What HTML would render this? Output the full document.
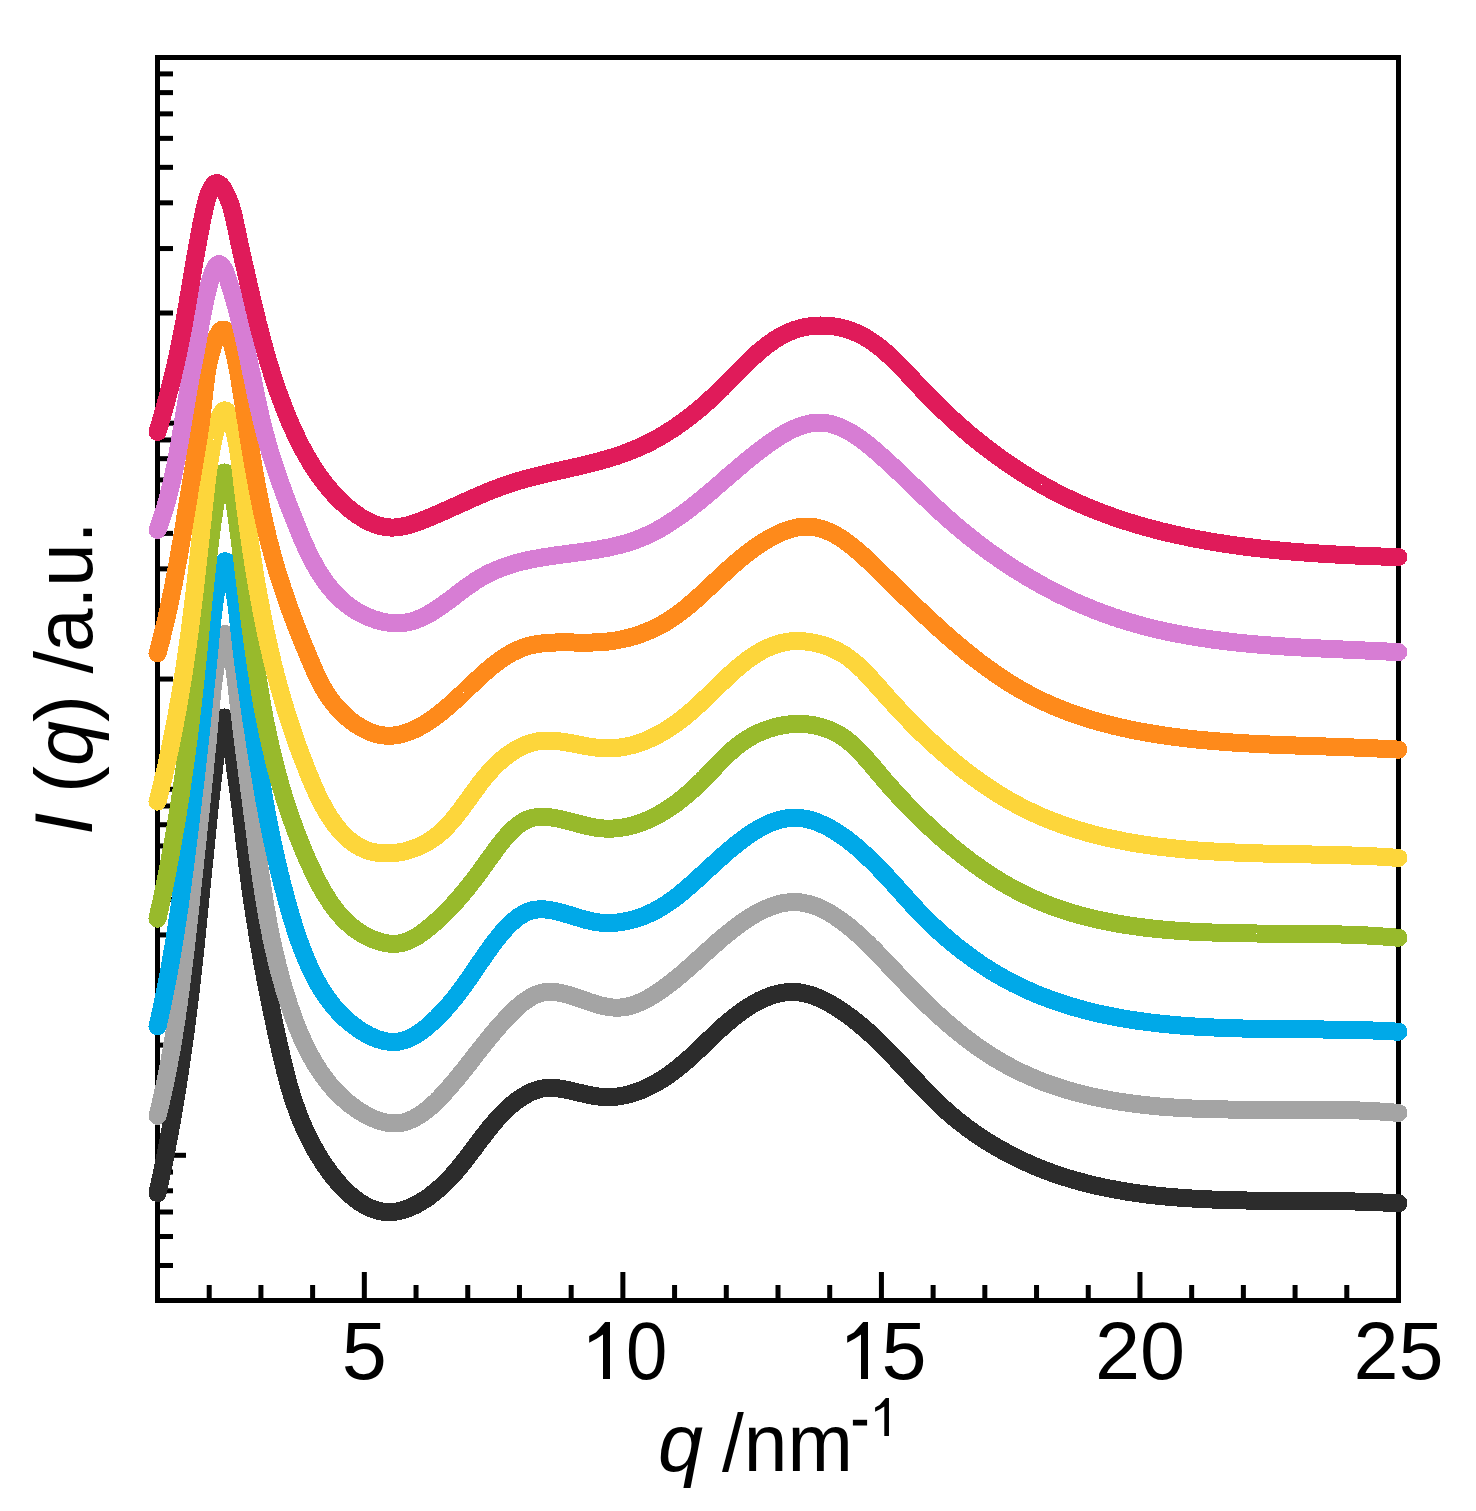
<!DOCTYPE html>
<html><head><meta charset="utf-8"><style>
html,body{margin:0;padding:0;background:#fff;}
svg{display:block;}
text{font-family:"Liberation Sans",sans-serif;font-size:81px;fill:#000;}
</style></head><body>
<svg width="1476" height="1511" viewBox="0 0 1476 1511">
<rect width="1476" height="1511" fill="#fff"/>
<g fill="#000"><rect x="160" y="1262.99" width="13" height="5"/>
<rect x="160" y="1234.01" width="13" height="5"/>
<rect x="160" y="1209.50" width="13" height="5"/>
<rect x="160" y="1188.27" width="13" height="5"/>
<rect x="160" y="1169.55" width="13" height="5"/>
<rect x="160" y="1152.80" width="26" height="5"/>
<rect x="160" y="1042.61" width="13" height="5"/>
<rect x="160" y="978.15" width="13" height="5"/>
<rect x="160" y="932.42" width="13" height="5"/>
<rect x="160" y="896.94" width="13" height="5"/>
<rect x="160" y="867.96" width="13" height="5"/>
<rect x="160" y="843.45" width="13" height="5"/>
<rect x="160" y="822.22" width="13" height="5"/>
<rect x="160" y="803.50" width="13" height="5"/>
<rect x="160" y="786.75" width="26" height="5"/>
<rect x="160" y="676.56" width="13" height="5"/>
<rect x="160" y="612.10" width="13" height="5"/>
<rect x="160" y="566.37" width="13" height="5"/>
<rect x="160" y="530.89" width="13" height="5"/>
<rect x="160" y="501.91" width="13" height="5"/>
<rect x="160" y="477.40" width="13" height="5"/>
<rect x="160" y="456.17" width="13" height="5"/>
<rect x="160" y="437.45" width="13" height="5"/>
<rect x="160" y="420.70" width="26" height="5"/>
<rect x="160" y="310.51" width="13" height="5"/>
<rect x="160" y="246.05" width="13" height="5"/>
<rect x="160" y="200.32" width="13" height="5"/>
<rect x="160" y="164.84" width="13" height="5"/>
<rect x="160" y="135.86" width="13" height="5"/>
<rect x="160" y="111.35" width="13" height="5"/>
<rect x="160" y="90.12" width="13" height="5"/>
<rect x="160" y="71.40" width="13" height="5"/>
<rect x="206.71" y="1285" width="5" height="13"/>
<rect x="258.42" y="1285" width="5" height="13"/>
<rect x="310.12" y="1285" width="5" height="13"/>
<rect x="361.83" y="1272" width="5" height="26"/>
<rect x="413.54" y="1285" width="5" height="13"/>
<rect x="465.25" y="1285" width="5" height="13"/>
<rect x="516.96" y="1285" width="5" height="13"/>
<rect x="568.67" y="1285" width="5" height="13"/>
<rect x="620.37" y="1272" width="5" height="26"/>
<rect x="672.08" y="1285" width="5" height="13"/>
<rect x="723.79" y="1285" width="5" height="13"/>
<rect x="775.50" y="1285" width="5" height="13"/>
<rect x="827.21" y="1285" width="5" height="13"/>
<rect x="878.92" y="1272" width="5" height="26"/>
<rect x="930.62" y="1285" width="5" height="13"/>
<rect x="982.33" y="1285" width="5" height="13"/>
<rect x="1034.04" y="1285" width="5" height="13"/>
<rect x="1085.75" y="1285" width="5" height="13"/>
<rect x="1137.46" y="1272" width="5" height="26"/>
<rect x="1189.17" y="1285" width="5" height="13"/>
<rect x="1240.87" y="1285" width="5" height="13"/>
<rect x="1292.58" y="1285" width="5" height="13"/>
<rect x="1344.29" y="1285" width="5" height="13"/></g>
<rect x="157.5" y="57.5" width="1241" height="1243" fill="none" stroke="#000" stroke-width="5"/>
<g fill="none" stroke-width="18" stroke-linecap="round" stroke-linejoin="round" shape-rendering="crispEdges">
<path d="M157.5 1193.1 L157.9 1191.1 L158.3 1189.2 L158.8 1187.2 L159.2 1185.3 L159.6 1183.3 L160.0 1181.3 L160.5 1179.4 L160.9 1177.4 L161.3 1175.5 L161.7 1173.5 L162.1 1171.5 L162.5 1169.6 L162.9 1167.6 L163.3 1165.6 L163.7 1163.7 L164.1 1161.7 L164.5 1159.7 L164.9 1157.8 L165.3 1155.8 L165.7 1153.9 L166.1 1151.9 L166.5 1149.9 L166.9 1148.0 L167.2 1146.0 L167.6 1144.0 L168.0 1142.1 L168.4 1140.1 L168.7 1138.1 L169.1 1136.2 L169.5 1134.2 L169.8 1132.2 L170.2 1130.2 L170.5 1128.3 L170.9 1126.3 L171.2 1124.3 L171.6 1122.4 L171.9 1120.4 L172.3 1118.4 L172.6 1116.5 L173.0 1114.5 L173.3 1112.5 L173.7 1110.5 L174.0 1108.6 L174.3 1106.6 L174.7 1104.6 L175.0 1102.6 L175.3 1100.7 L175.6 1098.7 L176.0 1096.7 L176.3 1094.7 L176.6 1092.8 L176.9 1090.8 L177.2 1088.8 L177.5 1086.8 L177.9 1084.9 L178.2 1082.9 L178.5 1080.9 L178.8 1078.9 L179.1 1077.0 L179.4 1075.0 L179.7 1073.0 L180.0 1071.0 L180.3 1069.0 L180.6 1067.1 L180.9 1065.1 L181.2 1063.1 L181.4 1061.1 L181.7 1059.1 L182.0 1057.2 L182.3 1055.2 L182.6 1053.2 L182.9 1051.2 L183.1 1049.2 L183.4 1047.3 L183.7 1045.3 L184.0 1043.3 L184.2 1041.3 L184.5 1039.3 L184.8 1037.3 L185.1 1035.4 L185.3 1033.4 L185.6 1031.4 L185.8 1029.4 L186.1 1027.4 L186.4 1025.4 L186.6 1023.4 L186.9 1021.5 L187.1 1019.5 L187.4 1017.5 L187.6 1015.5 L187.9 1013.5 L188.1 1011.5 L188.4 1009.5 L188.6 1007.5 L188.9 1005.6 L189.1 1003.6 L189.4 1001.6 L189.6 999.6 L189.8 997.6 L190.1 995.6 L190.3 993.6 L190.6 991.6 L190.8 989.6 L191.0 987.6 L191.2 985.6 L191.5 983.7 L191.7 981.7 L191.9 979.7 L192.2 977.7 L192.4 975.7 L192.6 973.7 L192.8 971.7 L193.1 969.7 L193.3 967.7 L193.5 965.7 L193.7 963.7 L193.9 961.7 L194.2 959.7 L194.4 957.7 L194.6 955.7 L194.8 953.7 L195.0 951.8 L195.2 949.8 L195.4 947.8 L195.7 945.8 L195.9 943.8 L196.1 941.8 L196.3 939.8 L196.5 937.8 L196.7 935.8 L196.9 933.8 L197.1 931.8 L197.3 929.8 L197.5 927.8 L197.7 925.8 L197.9 923.8 L198.1 921.8 L198.3 919.8 L198.5 917.8 L198.7 915.9 L198.9 913.9 L199.1 911.9 L199.3 909.9 L199.5 907.9 L199.7 905.9 L199.9 903.9 L200.1 901.9 L200.3 899.9 L200.5 897.9 L200.7 895.9 L200.9 893.9 L201.1 892.0 L201.3 890.0 L201.5 888.0 L201.7 886.0 L201.9 884.0 L202.1 882.0 L202.3 880.0 L202.5 878.0 L202.7 876.1 L202.9 874.1 L203.1 872.1 L203.3 870.1 L203.5 868.1 L203.7 866.1 L203.9 864.2 L204.1 862.2 L204.3 860.2 L204.5 858.2 L204.7 856.2 L204.9 854.3 L205.1 852.3 L205.3 850.3 L205.5 848.3 L205.7 846.4 L205.9 844.4 L206.1 842.4 L206.3 840.4 L206.5 838.5 L206.7 836.5 L206.9 834.5 L207.1 832.5 L207.3 830.6 L207.5 828.6 L207.7 826.6 L207.9 824.7 L208.1 822.7 L208.3 820.7 L208.5 818.8 L208.7 816.8 L208.9 814.9 L209.1 812.9 L209.3 810.9 L209.5 809.0 L209.7 807.0 L210.0 805.1 L210.2 803.1 L210.4 801.1 L210.6 799.1 L210.8 797.1 L211.1 795.0 L211.3 792.9 L211.5 790.8 L211.8 788.6 L212.0 786.4 L212.3 784.2 L212.5 781.9 L212.8 779.6 L213.1 777.2 L213.3 774.8 L213.6 772.4 L213.9 769.9 L214.2 767.4 L214.5 764.9 L214.9 762.3 L215.2 759.7 L215.5 757.1 L215.9 754.6 L216.2 752.0 L216.6 749.4 L216.9 746.9 L217.3 744.4 L217.7 742.0 L218.1 739.6 L218.4 737.3 L218.8 735.1 L219.2 733.0 L219.6 730.9 L220.0 729.0 L220.4 727.2 L220.8 725.5 L221.2 723.9 L221.6 722.5 L222.0 721.3 L222.4 720.2 L222.8 719.3 L223.3 718.5 L223.7 718.0 L224.1 717.6 L224.5 717.5 L224.9 717.6 L225.3 717.9 L225.7 718.4 L226.1 719.1 L226.5 720.0 L226.9 721.1 L227.3 722.3 L227.7 723.7 L228.1 725.2 L228.5 726.9 L228.9 728.7 L229.3 730.6 L229.7 732.6 L230.1 734.7 L230.5 736.9 L230.9 739.1 L231.2 741.5 L231.6 743.9 L232.0 746.3 L232.4 748.8 L232.7 751.3 L233.1 753.8 L233.5 756.4 L233.8 758.9 L234.2 761.4 L234.5 763.9 L234.9 766.4 L235.2 768.9 L235.6 771.3 L235.9 773.7 L236.2 776.0 L236.6 778.4 L236.9 780.7 L237.2 783.0 L237.5 785.2 L237.8 787.5 L238.1 789.7 L238.4 791.9 L238.7 794.1 L239.0 796.3 L239.3 798.4 L239.6 800.6 L239.9 802.7 L240.1 804.8 L240.4 806.9 L240.7 809.0 L240.9 811.1 L241.2 813.2 L241.4 815.2 L241.7 817.3 L241.9 819.3 L242.2 821.3 L242.4 823.3 L242.7 825.3 L242.9 827.3 L243.1 829.3 L243.4 831.3 L243.6 833.3 L243.8 835.2 L244.1 837.2 L244.3 839.1 L244.5 841.1 L244.7 843.0 L245.0 845.0 L245.2 846.9 L245.4 848.8 L245.7 850.7 L245.9 852.7 L246.1 854.6 L246.3 856.5 L246.6 858.4 L246.8 860.3 L247.0 862.2 L247.3 864.1 L247.5 866.0 L247.7 868.0 L248.0 869.9 L248.2 871.8 L248.5 873.7 L248.7 875.6 L249.0 877.5 L249.2 879.5 L249.5 881.4 L249.7 883.3 L250.0 885.3 L250.3 887.2 L250.5 889.1 L250.8 891.1 L251.1 893.0 L251.3 895.0 L251.6 896.9 L251.9 898.9 L252.2 900.9 L252.5 902.8 L252.8 904.8 L253.1 906.8 L253.4 908.7 L253.7 910.7 L254.0 912.7 L254.3 914.7 L254.6 916.7 L254.9 918.6 L255.2 920.6 L255.5 922.6 L255.8 924.6 L256.2 926.6 L256.5 928.6 L256.8 930.6 L257.1 932.6 L257.5 934.6 L257.8 936.6 L258.1 938.6 L258.5 940.6 L258.8 942.6 L259.1 944.6 L259.5 946.6 L259.8 948.6 L260.2 950.6 L260.5 952.6 L260.9 954.6 L261.2 956.6 L261.6 958.6 L262.0 960.6 L262.3 962.6 L262.7 964.6 L263.1 966.7 L263.4 968.7 L263.8 970.7 L264.2 972.7 L264.5 974.7 L264.9 976.7 L265.3 978.7 L265.7 980.7 L266.1 982.7 L266.5 984.7 L266.8 986.7 L267.2 988.7 L267.6 990.7 L268.0 992.7 L268.4 994.7 L268.8 996.7 L269.2 998.7 L269.6 1000.7 L270.0 1002.7 L270.4 1004.7 L270.8 1006.6 L271.2 1008.6 L271.6 1010.6 L272.0 1012.6 L272.4 1014.6 L272.9 1016.5 L273.3 1018.5 L273.7 1020.5 L274.1 1022.5 L274.5 1024.4 L274.9 1026.4 L275.4 1028.3 L275.8 1030.3 L276.2 1032.3 L276.6 1034.2 L277.1 1036.1 L277.5 1038.1 L277.9 1040.0 L278.4 1042.0 L278.8 1043.9 L279.2 1045.8 L279.6 1047.8 L280.1 1049.7 L280.5 1051.6 L281.0 1053.5 L281.4 1055.4 L281.8 1057.3 L282.3 1059.2 L282.7 1061.1 L283.2 1063.0 L283.6 1064.9 L284.1 1066.8 L284.6 1068.7 L285.0 1070.6 L285.5 1072.4 L286.0 1074.3 L286.5 1076.2 L287.0 1078.1 L287.5 1079.9 L288.0 1081.8 L288.5 1083.7 L289.0 1085.5 L289.5 1087.4 L290.1 1089.2 L290.6 1091.1 L291.2 1092.9 L291.8 1094.8 L292.3 1096.7 L292.9 1098.5 L293.5 1100.4 L294.1 1102.2 L294.8 1104.0 L295.4 1105.9 L296.1 1107.7 L296.7 1109.6 L297.4 1111.4 L298.1 1113.3 L298.8 1115.1 L299.5 1117.0 L300.2 1118.8 L301.0 1120.6 L301.8 1122.5 L302.6 1124.3 L303.3 1126.2 L304.2 1128.0 L305.0 1129.9 L305.9 1131.7 L306.7 1133.5 L307.6 1135.4 L308.5 1137.2 L309.4 1139.1 L310.4 1140.9 L311.4 1142.8 L312.4 1144.6 L313.4 1146.5 L314.4 1148.3 L315.4 1150.2 L316.5 1152.1 L317.6 1153.9 L318.7 1155.8 L319.9 1157.6 L321.0 1159.5 L322.2 1161.3 L323.4 1163.2 L324.6 1165.0 L325.9 1166.8 L327.1 1168.6 L328.4 1170.4 L329.7 1172.2 L331.0 1173.9 L332.4 1175.7 L333.7 1177.4 L335.1 1179.1 L336.5 1180.8 L337.9 1182.4 L339.3 1184.0 L340.8 1185.6 L342.2 1187.2 L343.7 1188.7 L345.2 1190.2 L346.7 1191.7 L348.2 1193.1 L349.8 1194.5 L351.3 1195.8 L352.9 1197.1 L354.5 1198.4 L356.0 1199.6 L357.7 1200.8 L359.3 1201.9 L360.9 1203.0 L362.6 1204.0 L364.2 1205.0 L365.9 1205.9 L367.6 1206.8 L369.2 1207.6 L371.0 1208.3 L372.7 1209.0 L374.4 1209.6 L376.1 1210.2 L377.9 1210.6 L379.6 1211.1 L381.4 1211.4 L383.2 1211.7 L384.9 1211.9 L386.7 1212.1 L388.5 1212.1 L390.3 1212.1 L392.1 1212.0 L394.0 1211.9 L395.8 1211.6 L397.6 1211.3 L399.4 1210.9 L401.3 1210.5 L403.1 1210.0 L404.9 1209.4 L406.8 1208.8 L408.6 1208.1 L410.4 1207.3 L412.2 1206.5 L414.1 1205.7 L415.9 1204.8 L417.7 1203.8 L419.5 1202.8 L421.2 1201.8 L423.0 1200.7 L424.8 1199.6 L426.5 1198.4 L428.3 1197.2 L430.0 1195.9 L431.7 1194.6 L433.4 1193.3 L435.0 1192.0 L436.7 1190.6 L438.3 1189.2 L439.9 1187.8 L441.5 1186.4 L443.0 1184.9 L444.6 1183.4 L446.1 1182.0 L447.6 1180.4 L449.1 1178.9 L450.5 1177.4 L452.0 1175.8 L453.4 1174.2 L454.8 1172.6 L456.2 1171.1 L457.5 1169.4 L458.9 1167.8 L460.2 1166.2 L461.6 1164.6 L462.9 1162.9 L464.2 1161.3 L465.5 1159.6 L466.8 1158.0 L468.1 1156.3 L469.3 1154.6 L470.6 1153.0 L471.9 1151.3 L473.1 1149.6 L474.4 1148.0 L475.6 1146.3 L476.9 1144.6 L478.1 1143.0 L479.4 1141.3 L480.6 1139.7 L481.8 1138.0 L483.1 1136.4 L484.3 1134.8 L485.6 1133.2 L486.8 1131.5 L488.1 1129.9 L489.3 1128.4 L490.6 1126.8 L491.9 1125.2 L493.2 1123.7 L494.5 1122.2 L495.8 1120.6 L497.1 1119.1 L498.4 1117.7 L499.8 1116.2 L501.1 1114.8 L502.5 1113.4 L503.8 1112.0 L505.2 1110.6 L506.7 1109.2 L508.1 1107.9 L509.5 1106.6 L511.0 1105.3 L512.5 1104.1 L514.0 1102.9 L515.5 1101.7 L517.1 1100.5 L518.6 1099.4 L520.2 1098.3 L521.9 1097.2 L523.5 1096.2 L525.2 1095.2 L526.9 1094.2 L528.6 1093.3 L530.3 1092.5 L532.1 1091.7 L533.8 1091.0 L535.6 1090.3 L537.5 1089.7 L539.3 1089.2 L541.1 1088.8 L543.0 1088.4 L544.9 1088.2 L546.8 1088.0 L548.7 1087.9 L550.6 1087.9 L552.5 1087.9 L554.4 1088.0 L556.4 1088.2 L558.3 1088.4 L560.3 1088.7 L562.3 1089.0 L564.2 1089.3 L566.2 1089.7 L568.2 1090.1 L570.2 1090.6 L572.2 1091.0 L574.2 1091.5 L576.2 1092.0 L578.2 1092.5 L580.3 1092.9 L582.3 1093.4 L584.3 1093.9 L586.3 1094.4 L588.3 1094.8 L590.3 1095.2 L592.3 1095.6 L594.3 1096.0 L596.3 1096.3 L598.3 1096.5 L600.3 1096.8 L602.3 1096.9 L604.3 1097.0 L606.3 1097.1 L608.3 1097.1 L610.2 1097.1 L612.2 1097.0 L614.1 1096.9 L616.1 1096.7 L618.0 1096.4 L620.0 1096.2 L621.9 1095.8 L623.8 1095.5 L625.7 1095.1 L627.6 1094.6 L629.5 1094.1 L631.4 1093.6 L633.3 1093.0 L635.1 1092.4 L637.0 1091.8 L638.8 1091.1 L640.7 1090.4 L642.5 1089.6 L644.3 1088.9 L646.1 1088.0 L647.9 1087.2 L649.7 1086.3 L651.5 1085.4 L653.3 1084.5 L655.0 1083.5 L656.8 1082.5 L658.5 1081.5 L660.3 1080.4 L662.0 1079.4 L663.7 1078.3 L665.4 1077.2 L667.0 1076.0 L668.7 1074.9 L670.4 1073.7 L672.0 1072.5 L673.6 1071.3 L675.3 1070.1 L676.9 1068.8 L678.5 1067.6 L680.0 1066.3 L681.6 1065.0 L683.1 1063.7 L684.7 1062.4 L686.2 1061.1 L687.7 1059.8 L689.2 1058.4 L690.7 1057.1 L692.2 1055.7 L693.7 1054.3 L695.1 1053.0 L696.6 1051.6 L698.1 1050.2 L699.5 1048.8 L701.0 1047.5 L702.4 1046.1 L703.9 1044.7 L705.3 1043.3 L706.7 1041.9 L708.2 1040.5 L709.6 1039.1 L711.1 1037.7 L712.5 1036.3 L714.0 1034.9 L715.4 1033.6 L716.9 1032.2 L718.4 1030.8 L719.8 1029.5 L721.3 1028.1 L722.8 1026.8 L724.3 1025.4 L725.8 1024.1 L727.3 1022.8 L728.9 1021.5 L730.4 1020.2 L732.0 1018.9 L733.6 1017.6 L735.1 1016.3 L736.8 1015.1 L738.4 1013.9 L740.0 1012.7 L741.7 1011.5 L743.3 1010.3 L745.0 1009.1 L746.8 1008.0 L748.5 1006.9 L750.2 1005.8 L752.0 1004.7 L753.8 1003.7 L755.6 1002.7 L757.4 1001.7 L759.2 1000.7 L761.0 999.8 L762.9 999.0 L764.8 998.2 L766.6 997.4 L768.5 996.6 L770.4 995.9 L772.3 995.3 L774.2 994.7 L776.1 994.2 L778.0 993.7 L779.9 993.2 L781.8 992.9 L783.8 992.6 L785.7 992.3 L787.6 992.1 L789.5 992.0 L791.5 991.9 L793.4 991.9 L795.3 992.0 L797.3 992.2 L799.2 992.4 L801.1 992.7 L803.1 993.0 L805.0 993.4 L806.9 993.9 L808.8 994.4 L810.7 995.0 L812.6 995.6 L814.5 996.3 L816.4 997.0 L818.3 997.8 L820.1 998.6 L822.0 999.5 L823.8 1000.3 L825.7 1001.3 L827.5 1002.2 L829.3 1003.2 L831.1 1004.3 L832.9 1005.3 L834.7 1006.4 L836.5 1007.5 L838.3 1008.6 L840.0 1009.8 L841.7 1010.9 L843.4 1012.1 L845.1 1013.3 L846.8 1014.5 L848.5 1015.7 L850.1 1016.9 L851.8 1018.2 L853.4 1019.4 L855.0 1020.7 L856.6 1022.0 L858.2 1023.2 L859.8 1024.5 L861.3 1025.8 L862.9 1027.2 L864.4 1028.5 L866.0 1029.8 L867.5 1031.1 L869.0 1032.5 L870.5 1033.9 L872.0 1035.2 L873.4 1036.6 L874.9 1038.0 L876.4 1039.4 L877.8 1040.7 L879.3 1042.1 L880.7 1043.6 L882.1 1045.0 L883.5 1046.4 L885.0 1047.8 L886.4 1049.2 L887.8 1050.7 L889.2 1052.1 L890.6 1053.5 L892.0 1055.0 L893.3 1056.4 L894.7 1057.9 L896.1 1059.3 L897.5 1060.8 L898.8 1062.2 L900.2 1063.7 L901.6 1065.1 L902.9 1066.6 L904.3 1068.1 L905.7 1069.5 L907.0 1071.0 L908.4 1072.4 L909.7 1073.9 L911.1 1075.4 L912.5 1076.8 L913.8 1078.3 L915.2 1079.7 L916.5 1081.2 L917.9 1082.6 L919.3 1084.1 L920.6 1085.5 L922.0 1087.0 L923.4 1088.4 L924.8 1089.8 L926.2 1091.3 L927.6 1092.7 L928.9 1094.1 L930.3 1095.5 L931.8 1096.9 L933.2 1098.3 L934.6 1099.7 L936.0 1101.1 L937.4 1102.5 L938.9 1103.9 L940.3 1105.3 L941.8 1106.6 L943.2 1108.0 L944.7 1109.3 L946.2 1110.6 L947.7 1112.0 L949.2 1113.3 L950.7 1114.6 L952.2 1115.9 L953.7 1117.2 L955.3 1118.5 L956.8 1119.7 L958.4 1121.0 L960.0 1122.3 L961.5 1123.5 L963.1 1124.7 L964.7 1125.9 L966.3 1127.2 L968.0 1128.4 L969.6 1129.5 L971.2 1130.7 L972.9 1131.9 L974.5 1133.1 L976.2 1134.2 L977.8 1135.3 L979.5 1136.5 L981.2 1137.6 L982.9 1138.7 L984.6 1139.8 L986.3 1140.9 L988.0 1141.9 L989.7 1143.0 L991.4 1144.1 L993.1 1145.1 L994.9 1146.1 L996.6 1147.2 L998.4 1148.2 L1000.1 1149.2 L1001.9 1150.2 L1003.7 1151.1 L1005.4 1152.1 L1007.2 1153.1 L1009.0 1154.0 L1010.8 1154.9 L1012.6 1155.8 L1014.4 1156.8 L1016.2 1157.7 L1018.0 1158.5 L1019.8 1159.4 L1021.6 1160.3 L1023.4 1161.1 L1025.2 1162.0 L1027.1 1162.8 L1028.9 1163.6 L1030.7 1164.4 L1032.6 1165.2 L1034.4 1166.0 L1036.3 1166.8 L1038.1 1167.5 L1040.0 1168.3 L1041.8 1169.0 L1043.7 1169.7 L1045.5 1170.5 L1047.4 1171.2 L1049.2 1171.9 L1051.1 1172.5 L1053.0 1173.2 L1054.9 1173.9 L1056.7 1174.5 L1058.6 1175.1 L1060.5 1175.8 L1062.4 1176.4 L1064.3 1177.0 L1066.2 1177.6 L1068.1 1178.2 L1070.0 1178.8 L1071.9 1179.3 L1073.8 1179.9 L1075.7 1180.4 L1077.6 1181.0 L1079.5 1181.5 L1081.4 1182.0 L1083.3 1182.5 L1085.2 1183.0 L1087.1 1183.5 L1089.1 1184.0 L1091.0 1184.5 L1092.9 1184.9 L1094.9 1185.4 L1096.8 1185.8 L1098.7 1186.3 L1100.7 1186.7 L1102.6 1187.1 L1104.5 1187.5 L1106.5 1187.9 L1108.4 1188.3 L1110.4 1188.7 L1112.3 1189.1 L1114.3 1189.4 L1116.2 1189.8 L1118.2 1190.2 L1120.1 1190.5 L1122.1 1190.8 L1124.1 1191.2 L1126.0 1191.5 L1128.0 1191.8 L1129.9 1192.1 L1131.9 1192.4 L1133.9 1192.7 L1135.9 1193.0 L1137.8 1193.3 L1139.8 1193.5 L1141.8 1193.8 L1143.8 1194.1 L1145.7 1194.3 L1147.7 1194.6 L1149.7 1194.8 L1151.7 1195.0 L1153.7 1195.3 L1155.7 1195.5 L1157.7 1195.7 L1159.6 1195.9 L1161.6 1196.1 L1163.6 1196.3 L1165.6 1196.5 L1167.6 1196.7 L1169.6 1196.9 L1171.6 1197.0 L1173.6 1197.2 L1175.6 1197.4 L1177.6 1197.5 L1179.6 1197.7 L1181.6 1197.8 L1183.6 1198.0 L1185.6 1198.1 L1187.6 1198.3 L1189.7 1198.4 L1191.7 1198.5 L1193.7 1198.6 L1195.7 1198.7 L1197.7 1198.9 L1199.7 1199.0 L1201.7 1199.1 L1203.7 1199.2 L1205.8 1199.3 L1207.8 1199.4 L1209.8 1199.4 L1211.8 1199.5 L1213.8 1199.6 L1215.8 1199.7 L1217.9 1199.8 L1219.9 1199.8 L1221.9 1199.9 L1223.9 1200.0 L1225.9 1200.0 L1228.0 1200.1 L1230.0 1200.1 L1232.0 1200.2 L1234.0 1200.2 L1236.1 1200.3 L1238.1 1200.3 L1240.1 1200.4 L1242.1 1200.4 L1244.1 1200.4 L1246.2 1200.5 L1248.2 1200.5 L1250.2 1200.5 L1252.2 1200.6 L1254.3 1200.6 L1256.3 1200.6 L1258.3 1200.6 L1260.3 1200.7 L1262.4 1200.7 L1264.4 1200.7 L1266.4 1200.7 L1268.4 1200.7 L1270.5 1200.7 L1272.5 1200.8 L1274.5 1200.8 L1276.5 1200.8 L1278.6 1200.8 L1280.6 1200.8 L1282.6 1200.8 L1284.6 1200.8 L1286.7 1200.8 L1288.7 1200.8 L1290.7 1200.8 L1292.7 1200.9 L1294.7 1200.9 L1296.8 1200.9 L1298.8 1200.9 L1300.8 1200.9 L1302.8 1200.9 L1304.8 1200.9 L1306.9 1200.9 L1308.9 1200.9 L1310.9 1200.9 L1312.9 1200.9 L1314.9 1201.0 L1316.9 1201.0 L1318.9 1201.0 L1321.0 1201.0 L1323.0 1201.0 L1325.0 1201.0 L1327.0 1201.0 L1329.0 1201.1 L1331.0 1201.1 L1333.0 1201.1 L1335.0 1201.1 L1337.0 1201.2 L1339.0 1201.2 L1341.0 1201.2 L1343.0 1201.3 L1345.0 1201.3 L1347.0 1201.3 L1349.0 1201.4 L1351.0 1201.4 L1353.0 1201.4 L1355.0 1201.5 L1357.0 1201.5 L1359.0 1201.6 L1361.0 1201.7 L1363.0 1201.7 L1365.0 1201.8 L1366.9 1201.8 L1368.9 1201.9 L1370.9 1202.0 L1372.9 1202.0 L1374.9 1202.1 L1376.8 1202.2 L1378.8 1202.3 L1380.8 1202.4 L1382.8 1202.5 L1384.7 1202.6 L1386.7 1202.7 L1388.7 1202.8 L1390.6 1202.9 L1392.6 1203.0 L1394.6 1203.1 L1396.5 1203.2 L1398.5 1203.3" stroke="#2c2c2c"/>
<path d="M157.5 1115.9 L158.0 1114.0 L158.5 1112.0 L159.0 1110.1 L159.4 1108.1 L159.9 1106.2 L160.4 1104.2 L160.8 1102.3 L161.3 1100.3 L161.7 1098.4 L162.2 1096.4 L162.6 1094.4 L163.0 1092.5 L163.5 1090.5 L163.9 1088.6 L164.3 1086.6 L164.7 1084.7 L165.2 1082.7 L165.6 1080.7 L166.0 1078.8 L166.4 1076.8 L166.8 1074.9 L167.2 1072.9 L167.5 1070.9 L167.9 1069.0 L168.3 1067.0 L168.7 1065.0 L169.1 1063.1 L169.4 1061.1 L169.8 1059.1 L170.1 1057.2 L170.5 1055.2 L170.9 1053.2 L171.2 1051.3 L171.6 1049.3 L171.9 1047.3 L172.2 1045.3 L172.6 1043.4 L172.9 1041.4 L173.2 1039.4 L173.6 1037.4 L173.9 1035.5 L174.2 1033.5 L174.5 1031.5 L174.8 1029.5 L175.2 1027.6 L175.5 1025.6 L175.8 1023.6 L176.1 1021.6 L176.4 1019.7 L176.7 1017.7 L177.0 1015.7 L177.3 1013.7 L177.5 1011.7 L177.8 1009.8 L178.1 1007.8 L178.4 1005.8 L178.7 1003.8 L178.9 1001.8 L179.2 999.9 L179.5 997.9 L179.8 995.9 L180.0 993.9 L180.3 991.9 L180.6 989.9 L180.8 987.9 L181.1 986.0 L181.3 984.0 L181.6 982.0 L181.8 980.0 L182.1 978.0 L182.3 976.0 L182.6 974.0 L182.8 972.1 L183.1 970.1 L183.3 968.1 L183.6 966.1 L183.8 964.1 L184.1 962.1 L184.3 960.1 L184.5 958.1 L184.8 956.1 L185.0 954.2 L185.2 952.2 L185.5 950.2 L185.7 948.2 L185.9 946.2 L186.1 944.2 L186.4 942.2 L186.6 940.2 L186.8 938.2 L187.0 936.2 L187.3 934.3 L187.5 932.3 L187.7 930.3 L187.9 928.3 L188.2 926.3 L188.4 924.3 L188.6 922.3 L188.8 920.3 L189.0 918.3 L189.3 916.3 L189.5 914.3 L189.7 912.3 L189.9 910.3 L190.1 908.4 L190.3 906.4 L190.6 904.4 L190.8 902.4 L191.0 900.4 L191.2 898.4 L191.4 896.4 L191.6 894.4 L191.9 892.4 L192.1 890.4 L192.3 888.4 L192.5 886.4 L192.7 884.4 L192.9 882.5 L193.2 880.5 L193.4 878.5 L193.6 876.5 L193.8 874.5 L194.0 872.5 L194.2 870.5 L194.5 868.5 L194.7 866.5 L194.9 864.5 L195.1 862.5 L195.3 860.5 L195.5 858.5 L195.8 856.6 L196.0 854.6 L196.2 852.6 L196.4 850.6 L196.6 848.6 L196.8 846.6 L197.1 844.6 L197.3 842.6 L197.5 840.6 L197.7 838.6 L197.9 836.6 L198.1 834.6 L198.3 832.7 L198.5 830.7 L198.8 828.7 L199.0 826.7 L199.2 824.7 L199.4 822.7 L199.6 820.7 L199.8 818.7 L200.0 816.7 L200.2 814.7 L200.5 812.8 L200.7 810.8 L200.9 808.8 L201.1 806.8 L201.3 804.8 L201.5 802.8 L201.7 800.8 L201.9 798.8 L202.1 796.8 L202.3 794.9 L202.5 792.9 L202.7 790.9 L202.9 788.9 L203.1 786.9 L203.3 784.9 L203.5 782.9 L203.7 780.9 L204.0 779.0 L204.2 777.0 L204.4 775.0 L204.6 773.0 L204.8 771.0 L205.0 769.0 L205.1 767.0 L205.3 765.0 L205.5 763.1 L205.7 761.1 L205.9 759.1 L206.1 757.1 L206.3 755.1 L206.5 753.1 L206.7 751.2 L206.9 749.2 L207.1 747.2 L207.3 745.2 L207.5 743.2 L207.7 741.2 L207.9 739.3 L208.0 737.3 L208.2 735.3 L208.4 733.3 L208.6 731.3 L208.8 729.3 L209.0 727.4 L209.1 725.4 L209.3 723.4 L209.5 721.4 L209.7 719.4 L209.9 717.5 L210.0 715.5 L210.2 713.5 L210.4 711.5 L210.6 709.5 L210.8 707.6 L210.9 705.6 L211.1 703.6 L211.3 701.6 L211.5 699.6 L211.7 697.5 L211.9 695.4 L212.1 693.4 L212.3 691.2 L212.6 689.1 L212.8 686.9 L213.1 684.7 L213.4 682.4 L213.7 680.1 L214.0 677.7 L214.3 675.2 L214.7 672.8 L215.1 670.2 L215.5 667.7 L215.9 665.2 L216.4 662.7 L216.8 660.2 L217.3 657.7 L217.8 655.3 L218.3 652.9 L218.8 650.6 L219.3 648.4 L219.8 646.3 L220.3 644.4 L220.9 642.5 L221.4 640.8 L221.9 639.3 L222.5 637.9 L223.0 636.7 L223.5 635.8 L224.1 635.0 L224.6 634.4 L225.1 634.1 L225.7 634.1 L226.2 634.2 L226.7 634.7 L227.2 635.3 L227.7 636.2 L228.2 637.2 L228.7 638.5 L229.1 639.9 L229.6 641.5 L230.1 643.2 L230.5 645.1 L231.0 647.2 L231.4 649.3 L231.8 651.6 L232.2 653.9 L232.6 656.3 L233.0 658.9 L233.4 661.4 L233.8 664.0 L234.2 666.7 L234.5 669.4 L234.9 672.1 L235.2 674.8 L235.6 677.5 L235.9 680.2 L236.2 682.8 L236.5 685.4 L236.8 687.9 L237.1 690.4 L237.3 692.8 L237.6 695.1 L237.8 697.4 L238.1 699.5 L238.3 701.5 L238.5 703.5 L238.7 705.4 L238.9 707.3 L239.1 709.2 L239.4 711.1 L239.6 713.0 L239.8 714.9 L240.0 716.8 L240.2 718.7 L240.5 720.6 L240.7 722.5 L240.9 724.4 L241.1 726.3 L241.4 728.2 L241.6 730.2 L241.9 732.1 L242.1 734.0 L242.3 736.0 L242.6 737.9 L242.8 739.9 L243.1 741.8 L243.3 743.8 L243.6 745.8 L243.8 747.7 L244.1 749.7 L244.3 751.7 L244.6 753.7 L244.8 755.7 L245.1 757.6 L245.4 759.6 L245.6 761.6 L245.9 763.6 L246.1 765.6 L246.4 767.6 L246.7 769.6 L246.9 771.6 L247.2 773.6 L247.4 775.6 L247.7 777.6 L248.0 779.6 L248.2 781.6 L248.5 783.6 L248.8 785.7 L249.0 787.7 L249.3 789.7 L249.6 791.7 L249.8 793.7 L250.1 795.7 L250.4 797.7 L250.6 799.7 L250.9 801.7 L251.1 803.7 L251.4 805.7 L251.7 807.7 L251.9 809.8 L252.2 811.8 L252.4 813.8 L252.7 815.8 L253.0 817.8 L253.2 819.7 L253.5 821.7 L253.7 823.7 L254.0 825.7 L254.2 827.7 L254.5 829.7 L254.8 831.7 L255.0 833.7 L255.3 835.7 L255.5 837.7 L255.8 839.6 L256.0 841.6 L256.3 843.6 L256.6 845.6 L256.8 847.6 L257.1 849.5 L257.3 851.5 L257.6 853.5 L257.9 855.5 L258.1 857.4 L258.4 859.4 L258.7 861.4 L258.9 863.4 L259.2 865.3 L259.5 867.3 L259.8 869.3 L260.1 871.2 L260.3 873.2 L260.6 875.1 L260.9 877.1 L261.2 879.1 L261.5 881.0 L261.8 883.0 L262.1 885.0 L262.4 886.9 L262.7 888.9 L263.0 890.8 L263.3 892.8 L263.6 894.7 L263.9 896.7 L264.2 898.6 L264.5 900.6 L264.8 902.5 L265.2 904.5 L265.5 906.4 L265.8 908.4 L266.2 910.3 L266.5 912.3 L266.9 914.2 L267.2 916.2 L267.6 918.1 L267.9 920.1 L268.3 922.0 L268.6 924.0 L269.0 925.9 L269.4 927.9 L269.8 929.8 L270.2 931.7 L270.5 933.7 L270.9 935.6 L271.3 937.6 L271.7 939.5 L272.2 941.4 L272.6 943.4 L273.0 945.3 L273.4 947.3 L273.9 949.2 L274.3 951.1 L274.7 953.1 L275.2 955.0 L275.6 956.9 L276.1 958.9 L276.6 960.8 L277.1 962.8 L277.5 964.7 L278.0 966.6 L278.5 968.6 L279.0 970.5 L279.5 972.4 L280.0 974.4 L280.6 976.3 L281.1 978.2 L281.6 980.2 L282.2 982.1 L282.7 984.0 L283.3 986.0 L283.8 987.9 L284.4 989.8 L285.0 991.8 L285.6 993.7 L286.2 995.6 L286.8 997.6 L287.4 999.5 L288.0 1001.4 L288.6 1003.4 L289.3 1005.3 L289.9 1007.2 L290.6 1009.1 L291.2 1011.1 L291.9 1013.0 L292.6 1014.9 L293.3 1016.8 L294.0 1018.8 L294.7 1020.7 L295.4 1022.6 L296.2 1024.5 L296.9 1026.4 L297.7 1028.3 L298.5 1030.2 L299.2 1032.0 L300.0 1033.9 L300.8 1035.8 L301.6 1037.7 L302.5 1039.5 L303.3 1041.4 L304.2 1043.2 L305.0 1045.0 L305.9 1046.8 L306.8 1048.7 L307.7 1050.5 L308.7 1052.3 L309.6 1054.0 L310.6 1055.8 L311.5 1057.6 L312.5 1059.3 L313.5 1061.1 L314.5 1062.8 L315.5 1064.5 L316.6 1066.2 L317.7 1067.9 L318.7 1069.5 L319.8 1071.2 L320.9 1072.8 L322.1 1074.5 L323.2 1076.1 L324.4 1077.7 L325.6 1079.2 L326.8 1080.8 L328.0 1082.4 L329.2 1083.9 L330.5 1085.4 L331.8 1086.9 L333.0 1088.4 L334.4 1089.8 L335.7 1091.3 L337.0 1092.7 L338.4 1094.1 L339.8 1095.4 L341.2 1096.8 L342.7 1098.1 L344.1 1099.4 L345.6 1100.7 L347.1 1102.0 L348.6 1103.3 L350.1 1104.5 L351.7 1105.7 L353.3 1106.8 L354.9 1108.0 L356.5 1109.1 L358.2 1110.2 L359.9 1111.3 L361.6 1112.4 L363.3 1113.4 L365.0 1114.4 L366.8 1115.3 L368.6 1116.3 L370.4 1117.1 L372.2 1118.0 L374.0 1118.8 L375.8 1119.5 L377.7 1120.2 L379.5 1120.8 L381.4 1121.4 L383.3 1121.9 L385.1 1122.3 L387.0 1122.7 L388.9 1123.0 L390.8 1123.2 L392.6 1123.3 L394.5 1123.4 L396.4 1123.3 L398.2 1123.2 L400.1 1123.0 L401.9 1122.7 L403.7 1122.3 L405.6 1121.8 L407.4 1121.2 L409.2 1120.5 L411.0 1119.8 L412.7 1119.0 L414.5 1118.1 L416.2 1117.1 L418.0 1116.1 L419.7 1115.0 L421.4 1113.9 L423.1 1112.7 L424.8 1111.5 L426.5 1110.2 L428.1 1108.8 L429.8 1107.5 L431.4 1106.0 L433.0 1104.6 L434.6 1103.1 L436.2 1101.6 L437.7 1100.0 L439.3 1098.5 L440.8 1096.9 L442.3 1095.3 L443.8 1093.7 L445.3 1092.0 L446.8 1090.4 L448.2 1088.8 L449.6 1087.2 L451.1 1085.5 L452.4 1083.9 L453.8 1082.3 L455.2 1080.7 L456.5 1079.1 L457.8 1077.5 L459.1 1075.9 L460.4 1074.3 L461.7 1072.7 L463.0 1071.1 L464.3 1069.5 L465.5 1068.0 L466.7 1066.4 L468.0 1064.8 L469.2 1063.3 L470.4 1061.7 L471.6 1060.2 L472.8 1058.6 L474.0 1057.1 L475.2 1055.5 L476.4 1054.0 L477.6 1052.5 L478.8 1050.9 L480.0 1049.4 L481.2 1047.9 L482.4 1046.4 L483.6 1044.9 L484.8 1043.4 L486.0 1041.9 L487.2 1040.4 L488.4 1038.9 L489.6 1037.4 L490.9 1035.9 L492.1 1034.4 L493.3 1032.9 L494.6 1031.4 L495.9 1029.9 L497.1 1028.4 L498.4 1027.0 L499.7 1025.5 L501.0 1024.0 L502.4 1022.5 L503.7 1021.1 L505.1 1019.6 L506.4 1018.1 L507.8 1016.7 L509.2 1015.2 L510.7 1013.8 L512.1 1012.3 L513.6 1010.9 L515.1 1009.4 L516.6 1008.0 L518.1 1006.7 L519.7 1005.3 L521.2 1004.0 L522.8 1002.7 L524.4 1001.5 L526.0 1000.4 L527.6 999.2 L529.3 998.2 L530.9 997.2 L532.6 996.3 L534.3 995.4 L536.0 994.6 L537.8 994.0 L539.5 993.4 L541.3 992.9 L543.0 992.5 L544.8 992.2 L546.6 991.9 L548.4 991.8 L550.3 991.8 L552.1 991.8 L554.0 992.0 L555.8 992.2 L557.7 992.4 L559.6 992.8 L561.5 993.1 L563.4 993.6 L565.3 994.0 L567.2 994.6 L569.2 995.1 L571.1 995.7 L573.1 996.4 L575.0 997.0 L577.0 997.7 L579.0 998.3 L580.9 999.0 L582.9 999.7 L584.9 1000.4 L586.9 1001.1 L588.9 1001.8 L590.9 1002.5 L592.9 1003.1 L594.9 1003.7 L596.9 1004.3 L598.9 1004.9 L600.9 1005.4 L602.9 1005.9 L604.9 1006.3 L606.9 1006.7 L608.9 1007.0 L610.9 1007.3 L612.9 1007.5 L614.9 1007.6 L616.9 1007.7 L618.9 1007.6 L620.9 1007.5 L622.9 1007.3 L624.9 1007.0 L626.8 1006.7 L628.8 1006.2 L630.8 1005.7 L632.7 1005.1 L634.7 1004.5 L636.6 1003.7 L638.5 1003.0 L640.4 1002.1 L642.3 1001.3 L644.2 1000.3 L646.1 999.4 L647.9 998.4 L649.7 997.3 L651.6 996.3 L653.4 995.2 L655.1 994.0 L656.9 992.9 L658.6 991.7 L660.4 990.5 L662.1 989.4 L663.7 988.2 L665.4 987.0 L667.0 985.8 L668.6 984.6 L670.2 983.3 L671.8 982.1 L673.4 980.9 L674.9 979.7 L676.5 978.4 L678.0 977.2 L679.5 975.9 L681.0 974.7 L682.5 973.4 L683.9 972.2 L685.4 970.9 L686.9 969.6 L688.3 968.3 L689.8 967.1 L691.2 965.8 L692.6 964.5 L694.1 963.2 L695.5 961.9 L696.9 960.6 L698.4 959.3 L699.8 958.0 L701.2 956.7 L702.7 955.4 L704.1 954.0 L705.6 952.7 L707.0 951.4 L708.5 950.1 L710.0 948.8 L711.4 947.4 L712.9 946.1 L714.4 944.8 L715.9 943.5 L717.4 942.1 L719.0 940.8 L720.5 939.5 L722.1 938.1 L723.7 936.8 L725.3 935.5 L726.9 934.1 L728.5 932.8 L730.2 931.5 L731.8 930.2 L733.5 928.9 L735.2 927.6 L736.9 926.3 L738.6 925.1 L740.3 923.8 L742.0 922.6 L743.8 921.4 L745.5 920.2 L747.3 919.0 L749.1 917.9 L750.8 916.8 L752.6 915.7 L754.4 914.6 L756.2 913.6 L758.0 912.6 L759.9 911.7 L761.7 910.7 L763.5 909.8 L765.3 909.0 L767.2 908.2 L769.0 907.4 L770.9 906.7 L772.7 906.0 L774.6 905.4 L776.4 904.8 L778.3 904.3 L780.1 903.8 L782.0 903.4 L783.8 903.0 L785.7 902.7 L787.5 902.5 L789.4 902.3 L791.2 902.1 L793.1 902.1 L794.9 902.1 L796.8 902.1 L798.6 902.3 L800.5 902.4 L802.3 902.7 L804.1 903.0 L806.0 903.4 L807.8 903.8 L809.6 904.3 L811.4 904.8 L813.2 905.4 L815.0 906.0 L816.8 906.7 L818.6 907.4 L820.4 908.2 L822.2 909.1 L824.0 909.9 L825.7 910.8 L827.5 911.8 L829.3 912.8 L831.0 913.8 L832.8 914.9 L834.5 916.0 L836.2 917.1 L837.9 918.3 L839.7 919.5 L841.4 920.7 L843.1 922.0 L844.8 923.3 L846.4 924.6 L848.1 925.9 L849.8 927.2 L851.4 928.6 L853.1 930.0 L854.7 931.4 L856.4 932.9 L858.0 934.3 L859.6 935.8 L861.2 937.2 L862.8 938.7 L864.3 940.2 L865.9 941.7 L867.5 943.2 L869.0 944.7 L870.5 946.3 L872.1 947.8 L873.6 949.3 L875.1 950.8 L876.6 952.3 L878.0 953.9 L879.5 955.4 L880.9 956.9 L882.4 958.4 L883.8 959.9 L885.2 961.3 L886.6 962.8 L888.0 964.3 L889.4 965.7 L890.7 967.1 L892.1 968.6 L893.4 970.0 L894.8 971.4 L896.1 972.8 L897.4 974.2 L898.7 975.6 L900.1 977.0 L901.4 978.4 L902.7 979.8 L904.0 981.1 L905.3 982.5 L906.6 983.9 L907.9 985.2 L909.2 986.6 L910.5 987.9 L911.8 989.3 L913.2 990.6 L914.5 992.0 L915.8 993.3 L917.1 994.7 L918.5 996.0 L919.8 997.4 L921.2 998.7 L922.6 1000.1 L924.0 1001.4 L925.3 1002.8 L926.8 1004.1 L928.2 1005.5 L929.6 1006.9 L931.0 1008.2 L932.5 1009.6 L933.9 1010.9 L935.4 1012.3 L936.9 1013.7 L938.4 1015.0 L939.9 1016.4 L941.4 1017.7 L942.9 1019.1 L944.4 1020.4 L946.0 1021.8 L947.5 1023.1 L949.1 1024.5 L950.6 1025.8 L952.2 1027.1 L953.8 1028.4 L955.4 1029.8 L957.0 1031.1 L958.6 1032.4 L960.2 1033.7 L961.8 1035.0 L963.4 1036.3 L965.1 1037.5 L966.7 1038.8 L968.4 1040.1 L970.0 1041.3 L971.7 1042.5 L973.3 1043.8 L975.0 1045.0 L976.7 1046.2 L978.4 1047.4 L980.1 1048.6 L981.8 1049.7 L983.5 1050.9 L985.2 1052.0 L986.9 1053.2 L988.6 1054.3 L990.3 1055.4 L992.1 1056.5 L993.8 1057.6 L995.5 1058.6 L997.3 1059.7 L999.0 1060.7 L1000.8 1061.7 L1002.5 1062.7 L1004.3 1063.7 L1006.0 1064.7 L1007.8 1065.7 L1009.6 1066.6 L1011.3 1067.5 L1013.1 1068.5 L1014.9 1069.4 L1016.7 1070.3 L1018.5 1071.2 L1020.3 1072.0 L1022.1 1072.9 L1023.9 1073.7 L1025.7 1074.5 L1027.5 1075.4 L1029.3 1076.2 L1031.1 1077.0 L1032.9 1077.7 L1034.7 1078.5 L1036.6 1079.3 L1038.4 1080.0 L1040.2 1080.7 L1042.1 1081.4 L1043.9 1082.2 L1045.8 1082.8 L1047.6 1083.5 L1049.5 1084.2 L1051.3 1084.9 L1053.2 1085.5 L1055.0 1086.1 L1056.9 1086.8 L1058.8 1087.4 L1060.6 1088.0 L1062.5 1088.6 L1064.4 1089.2 L1066.3 1089.7 L1068.2 1090.3 L1070.0 1090.8 L1071.9 1091.4 L1073.8 1091.9 L1075.7 1092.4 L1077.6 1092.9 L1079.5 1093.4 L1081.4 1093.9 L1083.3 1094.4 L1085.3 1094.9 L1087.2 1095.3 L1089.1 1095.8 L1091.0 1096.2 L1092.9 1096.6 L1094.8 1097.1 L1096.8 1097.5 L1098.7 1097.9 L1100.6 1098.3 L1102.6 1098.7 L1104.5 1099.0 L1106.4 1099.4 L1108.4 1099.8 L1110.3 1100.1 L1112.3 1100.5 L1114.2 1100.8 L1116.2 1101.1 L1118.1 1101.4 L1120.1 1101.8 L1122.0 1102.1 L1124.0 1102.4 L1126.0 1102.6 L1127.9 1102.9 L1129.9 1103.2 L1131.9 1103.5 L1133.8 1103.7 L1135.8 1104.0 L1137.8 1104.2 L1139.8 1104.4 L1141.7 1104.7 L1143.7 1104.9 L1145.7 1105.1 L1147.7 1105.3 L1149.7 1105.5 L1151.6 1105.7 L1153.6 1105.9 L1155.6 1106.1 L1157.6 1106.3 L1159.6 1106.5 L1161.6 1106.6 L1163.6 1106.8 L1165.6 1106.9 L1167.6 1107.1 L1169.6 1107.2 L1171.6 1107.4 L1173.6 1107.5 L1175.6 1107.6 L1177.6 1107.8 L1179.6 1107.9 L1181.6 1108.0 L1183.6 1108.1 L1185.6 1108.2 L1187.6 1108.3 L1189.7 1108.4 L1191.7 1108.5 L1193.7 1108.6 L1195.7 1108.7 L1197.7 1108.7 L1199.7 1108.8 L1201.8 1108.9 L1203.8 1108.9 L1205.8 1109.0 L1207.8 1109.1 L1209.8 1109.1 L1211.9 1109.2 L1213.9 1109.2 L1215.9 1109.3 L1217.9 1109.3 L1219.9 1109.3 L1222.0 1109.4 L1224.0 1109.4 L1226.0 1109.4 L1228.0 1109.5 L1230.1 1109.5 L1232.1 1109.5 L1234.1 1109.5 L1236.2 1109.6 L1238.2 1109.6 L1240.2 1109.6 L1242.2 1109.6 L1244.3 1109.6 L1246.3 1109.6 L1248.3 1109.6 L1250.4 1109.6 L1252.4 1109.7 L1254.4 1109.7 L1256.4 1109.7 L1258.5 1109.7 L1260.5 1109.7 L1262.5 1109.7 L1264.6 1109.7 L1266.6 1109.7 L1268.6 1109.7 L1270.6 1109.7 L1272.7 1109.6 L1274.7 1109.6 L1276.7 1109.6 L1278.8 1109.6 L1280.8 1109.6 L1282.8 1109.6 L1284.8 1109.6 L1286.9 1109.6 L1288.9 1109.6 L1290.9 1109.6 L1292.9 1109.6 L1295.0 1109.6 L1297.0 1109.6 L1299.0 1109.6 L1301.0 1109.6 L1303.0 1109.6 L1305.1 1109.6 L1307.1 1109.6 L1309.1 1109.6 L1311.1 1109.6 L1313.1 1109.6 L1315.1 1109.7 L1317.2 1109.7 L1319.2 1109.7 L1321.2 1109.7 L1323.2 1109.7 L1325.2 1109.7 L1327.2 1109.8 L1329.2 1109.8 L1331.2 1109.8 L1333.2 1109.8 L1335.2 1109.9 L1337.2 1109.9 L1339.2 1109.9 L1341.2 1110.0 L1343.2 1110.0 L1345.2 1110.1 L1347.2 1110.1 L1349.2 1110.2 L1351.2 1110.2 L1353.2 1110.3 L1355.2 1110.4 L1357.2 1110.4 L1359.2 1110.5 L1361.1 1110.6 L1363.1 1110.6 L1365.1 1110.7 L1367.1 1110.8 L1369.1 1110.9 L1371.0 1111.0 L1373.0 1111.1 L1375.0 1111.2 L1376.9 1111.3 L1378.9 1111.4 L1380.9 1111.6 L1382.8 1111.7 L1384.8 1111.8 L1386.8 1112.0 L1388.7 1112.1 L1390.7 1112.2 L1392.6 1112.4 L1394.6 1112.6 L1396.5 1112.7 L1398.5 1112.9" stroke="#a4a4a4"/>
<path d="M157.5 1026.4 L158.0 1024.5 L158.4 1022.5 L158.9 1020.6 L159.3 1018.6 L159.8 1016.7 L160.2 1014.7 L160.6 1012.8 L161.1 1010.8 L161.5 1008.9 L161.9 1006.9 L162.3 1005.0 L162.7 1003.0 L163.1 1001.1 L163.5 999.1 L163.9 997.2 L164.3 995.2 L164.7 993.2 L165.1 991.3 L165.5 989.3 L165.9 987.4 L166.3 985.4 L166.7 983.4 L167.1 981.5 L167.4 979.5 L167.8 977.5 L168.2 975.6 L168.6 973.6 L168.9 971.6 L169.3 969.7 L169.6 967.7 L170.0 965.7 L170.4 963.8 L170.7 961.8 L171.0 959.8 L171.4 957.8 L171.7 955.9 L172.1 953.9 L172.4 951.9 L172.8 949.9 L173.1 948.0 L173.4 946.0 L173.7 944.0 L174.1 942.0 L174.4 940.1 L174.7 938.1 L175.0 936.1 L175.3 934.1 L175.7 932.1 L176.0 930.2 L176.3 928.2 L176.6 926.2 L176.9 924.2 L177.2 922.2 L177.5 920.2 L177.8 918.3 L178.1 916.3 L178.4 914.3 L178.7 912.3 L179.0 910.3 L179.3 908.3 L179.6 906.3 L179.8 904.4 L180.1 902.4 L180.4 900.4 L180.7 898.4 L181.0 896.4 L181.2 894.4 L181.5 892.4 L181.8 890.4 L182.1 888.5 L182.3 886.5 L182.6 884.5 L182.9 882.5 L183.1 880.5 L183.4 878.5 L183.7 876.5 L183.9 874.5 L184.2 872.5 L184.5 870.6 L184.7 868.6 L185.0 866.6 L185.2 864.6 L185.5 862.6 L185.8 860.6 L186.0 858.6 L186.3 856.6 L186.5 854.6 L186.8 852.7 L187.0 850.7 L187.3 848.7 L187.5 846.7 L187.8 844.7 L188.0 842.7 L188.2 840.7 L188.5 838.7 L188.7 836.8 L189.0 834.8 L189.2 832.8 L189.5 830.8 L189.7 828.8 L189.9 826.8 L190.2 824.8 L190.4 822.8 L190.7 820.9 L190.9 818.9 L191.1 816.9 L191.4 814.9 L191.6 812.9 L191.9 810.9 L192.1 809.0 L192.3 807.0 L192.6 805.0 L192.8 803.0 L193.0 801.0 L193.3 799.0 L193.5 797.1 L193.7 795.1 L194.0 793.1 L194.2 791.1 L194.4 789.1 L194.7 787.1 L194.9 785.2 L195.1 783.2 L195.3 781.2 L195.6 779.2 L195.8 777.2 L196.0 775.2 L196.3 773.3 L196.5 771.3 L196.7 769.3 L196.9 767.3 L197.2 765.3 L197.4 763.4 L197.6 761.4 L197.8 759.4 L198.1 757.4 L198.3 755.4 L198.5 753.4 L198.7 751.5 L198.9 749.5 L199.2 747.5 L199.4 745.5 L199.6 743.5 L199.8 741.5 L200.0 739.6 L200.3 737.6 L200.5 735.6 L200.7 733.6 L200.9 731.6 L201.1 729.6 L201.3 727.7 L201.6 725.7 L201.8 723.7 L202.0 721.7 L202.2 719.7 L202.4 717.7 L202.6 715.7 L202.8 713.8 L203.0 711.8 L203.3 709.8 L203.5 707.8 L203.7 705.8 L203.9 703.8 L204.1 701.8 L204.3 699.8 L204.5 697.9 L204.7 695.9 L204.9 693.9 L205.1 691.9 L205.3 689.9 L205.5 687.9 L205.8 685.9 L206.0 683.9 L206.2 681.9 L206.4 679.9 L206.6 677.9 L206.8 675.9 L207.0 674.0 L207.2 672.0 L207.4 670.0 L207.6 668.0 L207.8 666.0 L208.0 664.0 L208.2 662.0 L208.4 660.0 L208.6 658.0 L208.8 656.0 L209.0 654.0 L209.2 652.0 L209.4 650.0 L209.6 648.0 L209.8 646.0 L209.9 644.0 L210.1 642.0 L210.3 639.9 L210.5 637.9 L210.7 635.9 L210.9 633.9 L211.1 631.9 L211.3 629.9 L211.5 627.8 L211.7 625.8 L211.9 623.7 L212.2 621.6 L212.4 619.5 L212.6 617.4 L212.9 615.3 L213.1 613.1 L213.4 610.9 L213.7 608.7 L214.0 606.4 L214.3 604.1 L214.6 601.8 L214.9 599.5 L215.3 597.1 L215.6 594.6 L216.0 592.2 L216.4 589.7 L216.8 587.2 L217.3 584.8 L217.7 582.3 L218.2 580.0 L218.6 577.7 L219.1 575.5 L219.6 573.4 L220.1 571.4 L220.6 569.5 L221.2 567.8 L221.7 566.2 L222.2 564.9 L222.8 563.7 L223.3 562.7 L223.8 562.0 L224.4 561.5 L225.0 561.3 L225.5 561.3 L226.1 561.6 L226.6 562.2 L227.2 563.0 L227.8 564.0 L228.3 565.2 L228.9 566.6 L229.4 568.2 L229.9 569.9 L230.5 571.8 L231.0 573.9 L231.5 576.0 L232.0 578.3 L232.5 580.6 L233.0 583.0 L233.5 585.5 L233.9 588.0 L234.3 590.5 L234.7 593.1 L235.1 595.6 L235.5 598.2 L235.9 600.7 L236.2 603.2 L236.6 605.7 L236.9 608.1 L237.2 610.5 L237.4 612.9 L237.7 615.2 L238.0 617.5 L238.2 619.7 L238.5 621.9 L238.7 624.0 L238.9 626.1 L239.1 628.1 L239.4 630.1 L239.6 632.1 L239.8 634.0 L240.0 635.9 L240.2 637.9 L240.4 639.8 L240.7 641.7 L240.9 643.6 L241.1 645.6 L241.3 647.5 L241.6 649.5 L241.8 651.4 L242.0 653.4 L242.3 655.3 L242.5 657.3 L242.8 659.2 L243.0 661.2 L243.3 663.2 L243.5 665.1 L243.8 667.1 L244.1 669.1 L244.3 671.1 L244.6 673.0 L244.9 675.0 L245.1 677.0 L245.4 679.0 L245.7 681.0 L246.0 683.0 L246.2 685.0 L246.5 687.0 L246.8 689.0 L247.1 691.0 L247.4 692.9 L247.7 694.9 L248.0 696.9 L248.3 698.9 L248.5 700.9 L248.8 702.9 L249.1 704.9 L249.4 706.9 L249.7 708.9 L250.0 710.9 L250.3 712.9 L250.6 714.9 L250.9 716.9 L251.2 718.9 L251.5 720.9 L251.8 722.9 L252.1 724.9 L252.5 726.9 L252.8 728.9 L253.1 730.9 L253.4 732.8 L253.7 734.8 L254.0 736.8 L254.3 738.8 L254.6 740.8 L254.9 742.8 L255.2 744.7 L255.5 746.7 L255.8 748.7 L256.1 750.6 L256.5 752.6 L256.8 754.6 L257.1 756.6 L257.4 758.5 L257.7 760.5 L258.0 762.4 L258.3 764.4 L258.7 766.4 L259.0 768.3 L259.3 770.3 L259.6 772.2 L259.9 774.2 L260.3 776.2 L260.6 778.1 L260.9 780.1 L261.3 782.0 L261.6 784.0 L261.9 785.9 L262.3 787.9 L262.6 789.8 L262.9 791.8 L263.3 793.7 L263.6 795.7 L264.0 797.6 L264.3 799.6 L264.7 801.5 L265.0 803.4 L265.4 805.4 L265.7 807.3 L266.1 809.3 L266.5 811.2 L266.8 813.2 L267.2 815.1 L267.6 817.1 L267.9 819.0 L268.3 820.9 L268.7 822.9 L269.1 824.8 L269.5 826.8 L269.8 828.7 L270.2 830.7 L270.6 832.6 L271.0 834.5 L271.4 836.5 L271.8 838.4 L272.2 840.4 L272.6 842.3 L273.1 844.2 L273.5 846.2 L273.9 848.1 L274.3 850.1 L274.7 852.0 L275.2 854.0 L275.6 855.9 L276.1 857.9 L276.5 859.8 L276.9 861.7 L277.4 863.7 L277.8 865.6 L278.3 867.6 L278.8 869.5 L279.2 871.5 L279.7 873.4 L280.2 875.4 L280.7 877.3 L281.1 879.3 L281.6 881.2 L282.1 883.2 L282.6 885.2 L283.1 887.1 L283.6 889.1 L284.2 891.0 L284.7 893.0 L285.2 895.0 L285.7 896.9 L286.3 898.9 L286.8 900.8 L287.3 902.8 L287.9 904.8 L288.4 906.7 L289.0 908.7 L289.6 910.7 L290.1 912.7 L290.7 914.6 L291.3 916.6 L291.9 918.6 L292.5 920.5 L293.1 922.5 L293.7 924.5 L294.3 926.5 L294.9 928.4 L295.5 930.4 L296.2 932.3 L296.8 934.3 L297.5 936.3 L298.2 938.2 L298.8 940.1 L299.5 942.1 L300.2 944.0 L300.9 946.0 L301.6 947.9 L302.4 949.8 L303.1 951.7 L303.9 953.6 L304.6 955.5 L305.4 957.4 L306.2 959.3 L307.0 961.1 L307.8 963.0 L308.6 964.9 L309.4 966.7 L310.3 968.5 L311.2 970.3 L312.0 972.2 L312.9 974.0 L313.8 975.7 L314.8 977.5 L315.7 979.3 L316.6 981.0 L317.6 982.8 L318.6 984.5 L319.6 986.2 L320.6 987.9 L321.6 989.6 L322.7 991.2 L323.8 992.9 L324.8 994.5 L325.9 996.1 L327.1 997.8 L328.2 999.3 L329.4 1000.9 L330.5 1002.4 L331.7 1004.0 L332.9 1005.5 L334.2 1007.0 L335.4 1008.5 L336.7 1009.9 L338.0 1011.3 L339.3 1012.8 L340.7 1014.1 L342.0 1015.5 L343.4 1016.9 L344.8 1018.2 L346.2 1019.5 L347.7 1020.8 L349.1 1022.0 L350.6 1023.3 L352.2 1024.5 L353.7 1025.7 L355.3 1026.8 L356.8 1028.0 L358.5 1029.1 L360.1 1030.2 L361.7 1031.2 L363.4 1032.3 L365.1 1033.3 L366.9 1034.2 L368.6 1035.2 L370.4 1036.0 L372.2 1036.9 L374.0 1037.7 L375.8 1038.4 L377.6 1039.1 L379.5 1039.7 L381.3 1040.2 L383.2 1040.7 L385.1 1041.1 L386.9 1041.4 L388.8 1041.7 L390.7 1041.8 L392.6 1041.9 L394.5 1041.9 L396.4 1041.8 L398.3 1041.6 L400.1 1041.2 L402.0 1040.8 L403.9 1040.3 L405.8 1039.7 L407.6 1039.0 L409.5 1038.2 L411.3 1037.3 L413.1 1036.4 L414.9 1035.4 L416.7 1034.3 L418.5 1033.2 L420.3 1032.0 L422.1 1030.7 L423.8 1029.4 L425.5 1028.1 L427.2 1026.7 L428.9 1025.3 L430.5 1023.8 L432.1 1022.4 L433.7 1020.9 L435.3 1019.4 L436.9 1017.9 L438.4 1016.3 L439.9 1014.8 L441.3 1013.3 L442.8 1011.8 L444.2 1010.3 L445.5 1008.8 L446.9 1007.2 L448.2 1005.7 L449.5 1004.2 L450.8 1002.7 L452.0 1001.2 L453.3 999.7 L454.5 998.2 L455.7 996.7 L456.9 995.2 L458.0 993.7 L459.2 992.2 L460.3 990.6 L461.5 989.1 L462.6 987.6 L463.7 986.1 L464.8 984.5 L465.9 983.0 L467.0 981.5 L468.1 979.9 L469.1 978.4 L470.2 976.8 L471.3 975.2 L472.4 973.7 L473.5 972.1 L474.5 970.5 L475.6 968.9 L476.7 967.3 L477.8 965.7 L478.9 964.1 L480.0 962.4 L481.2 960.8 L482.3 959.1 L483.5 957.5 L484.6 955.8 L485.8 954.1 L487.0 952.4 L488.2 950.7 L489.5 949.0 L490.7 947.2 L492.0 945.5 L493.3 943.7 L494.6 942.0 L496.0 940.2 L497.3 938.5 L498.7 936.7 L500.1 935.0 L501.5 933.3 L502.9 931.7 L504.4 930.0 L505.8 928.4 L507.3 926.8 L508.8 925.3 L510.3 923.8 L511.9 922.4 L513.4 921.0 L515.0 919.7 L516.6 918.4 L518.2 917.2 L519.8 916.1 L521.4 915.1 L523.1 914.1 L524.7 913.2 L526.4 912.4 L528.1 911.7 L529.8 911.1 L531.5 910.5 L533.3 910.1 L535.0 909.8 L536.8 909.6 L538.6 909.4 L540.3 909.3 L542.2 909.3 L544.0 909.4 L545.8 909.5 L547.6 909.7 L549.5 910.0 L551.3 910.3 L553.2 910.6 L555.1 911.0 L557.0 911.5 L558.9 911.9 L560.8 912.5 L562.7 913.0 L564.7 913.6 L566.6 914.1 L568.6 914.7 L570.5 915.3 L572.5 915.9 L574.5 916.5 L576.5 917.1 L578.5 917.7 L580.5 918.3 L582.5 918.9 L584.5 919.5 L586.5 920.0 L588.5 920.5 L590.5 920.9 L592.6 921.4 L594.6 921.8 L596.7 922.1 L598.7 922.4 L600.8 922.6 L602.8 922.8 L604.9 922.9 L606.9 923.0 L609.0 923.0 L611.0 922.9 L613.1 922.8 L615.1 922.7 L617.2 922.5 L619.2 922.3 L621.2 922.0 L623.3 921.7 L625.3 921.3 L627.3 920.9 L629.2 920.5 L631.2 920.0 L633.1 919.5 L635.1 918.9 L637.0 918.3 L638.9 917.7 L640.7 917.1 L642.6 916.4 L644.4 915.7 L646.2 915.0 L647.9 914.2 L649.7 913.4 L651.4 912.6 L653.1 911.8 L654.8 910.9 L656.5 910.0 L658.1 909.1 L659.8 908.2 L661.4 907.2 L663.0 906.2 L664.6 905.2 L666.2 904.2 L667.8 903.2 L669.3 902.1 L670.9 901.0 L672.4 899.9 L673.9 898.8 L675.5 897.6 L677.0 896.5 L678.5 895.3 L680.0 894.1 L681.5 892.9 L683.0 891.6 L684.5 890.4 L686.0 889.1 L687.5 887.8 L689.0 886.5 L690.5 885.2 L692.0 883.8 L693.5 882.5 L695.1 881.1 L696.6 879.8 L698.1 878.4 L699.6 877.0 L701.2 875.5 L702.7 874.1 L704.3 872.7 L705.8 871.2 L707.4 869.8 L709.0 868.3 L710.5 866.9 L712.1 865.4 L713.7 864.0 L715.3 862.5 L716.9 861.0 L718.5 859.6 L720.2 858.1 L721.8 856.7 L723.4 855.2 L725.1 853.8 L726.7 852.3 L728.4 850.9 L730.0 849.5 L731.7 848.1 L733.3 846.7 L735.0 845.4 L736.7 844.0 L738.4 842.7 L740.1 841.4 L741.8 840.1 L743.5 838.8 L745.2 837.6 L746.9 836.4 L748.6 835.2 L750.3 834.0 L752.0 832.9 L753.8 831.8 L755.5 830.7 L757.2 829.6 L759.0 828.6 L760.7 827.7 L762.4 826.7 L764.2 825.8 L765.9 825.0 L767.7 824.2 L769.5 823.4 L771.2 822.7 L773.0 822.0 L774.7 821.3 L776.5 820.8 L778.3 820.2 L780.1 819.7 L781.8 819.3 L783.6 818.9 L785.4 818.6 L787.2 818.3 L789.0 818.1 L790.8 817.9 L792.5 817.8 L794.3 817.8 L796.1 817.8 L797.9 817.9 L799.7 818.0 L801.5 818.2 L803.3 818.5 L805.1 818.8 L806.9 819.1 L808.7 819.6 L810.5 820.0 L812.3 820.5 L814.1 821.1 L815.8 821.7 L817.6 822.4 L819.4 823.1 L821.2 823.9 L823.0 824.6 L824.7 825.5 L826.5 826.4 L828.3 827.3 L830.0 828.2 L831.8 829.2 L833.5 830.3 L835.3 831.3 L837.0 832.4 L838.7 833.5 L840.5 834.7 L842.2 835.9 L843.9 837.1 L845.6 838.3 L847.3 839.6 L849.0 840.9 L850.7 842.2 L852.3 843.5 L854.0 844.9 L855.6 846.3 L857.3 847.6 L858.9 849.1 L860.5 850.5 L862.1 851.9 L863.7 853.4 L865.3 854.8 L866.9 856.3 L868.5 857.8 L870.0 859.3 L871.6 860.8 L873.1 862.3 L874.6 863.8 L876.1 865.3 L877.6 866.8 L879.1 868.3 L880.5 869.8 L882.0 871.3 L883.4 872.8 L884.8 874.3 L886.2 875.8 L887.6 877.3 L889.0 878.8 L890.3 880.3 L891.7 881.7 L893.0 883.2 L894.3 884.7 L895.6 886.1 L896.9 887.6 L898.2 889.0 L899.5 890.5 L900.8 891.9 L902.1 893.3 L903.3 894.7 L904.6 896.2 L905.9 897.6 L907.1 899.0 L908.4 900.4 L909.7 901.8 L911.0 903.2 L912.2 904.6 L913.5 906.0 L914.8 907.4 L916.1 908.8 L917.4 910.2 L918.7 911.6 L920.1 913.0 L921.4 914.3 L922.8 915.7 L924.1 917.1 L925.5 918.5 L926.9 919.9 L928.3 921.3 L929.7 922.6 L931.1 924.0 L932.6 925.4 L934.0 926.7 L935.5 928.1 L936.9 929.5 L938.4 930.8 L939.9 932.2 L941.4 933.5 L942.9 934.9 L944.5 936.2 L946.0 937.5 L947.6 938.9 L949.1 940.2 L950.7 941.5 L952.3 942.8 L953.8 944.1 L955.4 945.4 L957.0 946.7 L958.6 948.0 L960.3 949.2 L961.9 950.5 L963.5 951.8 L965.2 953.0 L966.8 954.2 L968.5 955.5 L970.1 956.7 L971.8 957.9 L973.5 959.1 L975.1 960.3 L976.8 961.5 L978.5 962.6 L980.2 963.8 L981.9 964.9 L983.6 966.1 L985.4 967.2 L987.1 968.3 L988.8 969.4 L990.5 970.5 L992.3 971.5 L994.0 972.6 L995.7 973.6 L997.5 974.7 L999.2 975.7 L1001.0 976.7 L1002.8 977.7 L1004.5 978.6 L1006.3 979.6 L1008.1 980.6 L1009.8 981.5 L1011.6 982.4 L1013.4 983.4 L1015.2 984.3 L1017.0 985.1 L1018.8 986.0 L1020.6 986.9 L1022.4 987.7 L1024.2 988.6 L1026.0 989.4 L1027.8 990.2 L1029.6 991.1 L1031.4 991.9 L1033.2 992.6 L1035.1 993.4 L1036.9 994.2 L1038.7 994.9 L1040.6 995.7 L1042.4 996.4 L1044.3 997.1 L1046.1 997.8 L1047.9 998.5 L1049.8 999.2 L1051.7 999.9 L1053.5 1000.6 L1055.4 1001.2 L1057.2 1001.9 L1059.1 1002.5 L1061.0 1003.1 L1062.9 1003.7 L1064.7 1004.3 L1066.6 1004.9 L1068.5 1005.5 L1070.4 1006.1 L1072.3 1006.7 L1074.2 1007.2 L1076.1 1007.8 L1078.0 1008.3 L1079.9 1008.8 L1081.8 1009.4 L1083.7 1009.9 L1085.6 1010.4 L1087.5 1010.9 L1089.4 1011.3 L1091.3 1011.8 L1093.2 1012.3 L1095.2 1012.7 L1097.1 1013.2 L1099.0 1013.6 L1100.9 1014.1 L1102.9 1014.5 L1104.8 1014.9 L1106.7 1015.3 L1108.7 1015.7 L1110.6 1016.1 L1112.6 1016.5 L1114.5 1016.8 L1116.5 1017.2 L1118.4 1017.6 L1120.4 1017.9 L1122.3 1018.3 L1124.3 1018.6 L1126.2 1018.9 L1128.2 1019.3 L1130.2 1019.6 L1132.1 1019.9 L1134.1 1020.2 L1136.1 1020.5 L1138.0 1020.8 L1140.0 1021.1 L1142.0 1021.3 L1143.9 1021.6 L1145.9 1021.9 L1147.9 1022.1 L1149.9 1022.4 L1151.9 1022.6 L1153.8 1022.8 L1155.8 1023.1 L1157.8 1023.3 L1159.8 1023.5 L1161.8 1023.7 L1163.8 1023.9 L1165.8 1024.1 L1167.8 1024.3 L1169.8 1024.5 L1171.8 1024.7 L1173.8 1024.9 L1175.8 1025.1 L1177.8 1025.2 L1179.8 1025.4 L1181.8 1025.6 L1183.8 1025.7 L1185.8 1025.9 L1187.8 1026.0 L1189.8 1026.2 L1191.8 1026.3 L1193.8 1026.4 L1195.8 1026.6 L1197.8 1026.7 L1199.8 1026.8 L1201.8 1026.9 L1203.9 1027.0 L1205.9 1027.1 L1207.9 1027.2 L1209.9 1027.3 L1211.9 1027.4 L1213.9 1027.5 L1216.0 1027.6 L1218.0 1027.7 L1220.0 1027.8 L1222.0 1027.9 L1224.0 1027.9 L1226.1 1028.0 L1228.1 1028.1 L1230.1 1028.1 L1232.1 1028.2 L1234.1 1028.3 L1236.2 1028.3 L1238.2 1028.4 L1240.2 1028.4 L1242.2 1028.5 L1244.3 1028.5 L1246.3 1028.6 L1248.3 1028.6 L1250.3 1028.7 L1252.4 1028.7 L1254.4 1028.7 L1256.4 1028.8 L1258.4 1028.8 L1260.5 1028.8 L1262.5 1028.9 L1264.5 1028.9 L1266.5 1028.9 L1268.6 1029.0 L1270.6 1029.0 L1272.6 1029.0 L1274.6 1029.0 L1276.7 1029.0 L1278.7 1029.1 L1280.7 1029.1 L1282.7 1029.1 L1284.8 1029.1 L1286.8 1029.1 L1288.8 1029.2 L1290.8 1029.2 L1292.8 1029.2 L1294.9 1029.2 L1296.9 1029.2 L1298.9 1029.2 L1300.9 1029.3 L1302.9 1029.3 L1305.0 1029.3 L1307.0 1029.3 L1309.0 1029.3 L1311.0 1029.3 L1313.0 1029.4 L1315.0 1029.4 L1317.0 1029.4 L1319.1 1029.4 L1321.1 1029.4 L1323.1 1029.5 L1325.1 1029.5 L1327.1 1029.5 L1329.1 1029.5 L1331.1 1029.5 L1333.1 1029.6 L1335.1 1029.6 L1337.1 1029.6 L1339.1 1029.7 L1341.1 1029.7 L1343.1 1029.7 L1345.1 1029.8 L1347.1 1029.8 L1349.1 1029.8 L1351.1 1029.9 L1353.1 1029.9 L1355.1 1030.0 L1357.1 1030.0 L1359.1 1030.1 L1361.1 1030.1 L1363.0 1030.2 L1365.0 1030.2 L1367.0 1030.3 L1369.0 1030.4 L1371.0 1030.4 L1372.9 1030.5 L1374.9 1030.6 L1376.9 1030.7 L1378.9 1030.7 L1380.8 1030.8 L1382.8 1030.9 L1384.8 1031.0 L1386.7 1031.1 L1388.7 1031.2 L1390.6 1031.3 L1392.6 1031.4 L1394.6 1031.5 L1396.5 1031.6 L1398.5 1031.7" stroke="#00a9e8"/>
<path d="M157.5 918.7 L157.9 916.7 L158.4 914.8 L158.8 912.8 L159.2 910.8 L159.7 908.9 L160.1 906.9 L160.5 904.9 L161.0 903.0 L161.4 901.0 L161.8 899.0 L162.2 897.1 L162.6 895.1 L163.0 893.1 L163.4 891.2 L163.8 889.2 L164.2 887.2 L164.6 885.3 L165.0 883.3 L165.4 881.3 L165.8 879.4 L166.2 877.4 L166.6 875.4 L167.0 873.5 L167.4 871.5 L167.8 869.5 L168.1 867.6 L168.5 865.6 L168.9 863.6 L169.3 861.7 L169.6 859.7 L170.0 857.7 L170.4 855.8 L170.7 853.8 L171.1 851.9 L171.5 849.9 L171.8 847.9 L172.2 846.0 L172.5 844.0 L172.9 842.0 L173.2 840.1 L173.6 838.1 L173.9 836.1 L174.3 834.2 L174.6 832.2 L174.9 830.2 L175.3 828.3 L175.6 826.3 L175.9 824.3 L176.3 822.4 L176.6 820.4 L176.9 818.4 L177.2 816.4 L177.6 814.5 L177.9 812.5 L178.2 810.5 L178.5 808.6 L178.8 806.6 L179.1 804.6 L179.5 802.7 L179.8 800.7 L180.1 798.7 L180.4 796.7 L180.7 794.8 L181.0 792.8 L181.3 790.8 L181.6 788.8 L181.9 786.9 L182.2 784.9 L182.5 782.9 L182.8 780.9 L183.0 779.0 L183.3 777.0 L183.6 775.0 L183.9 773.0 L184.2 771.1 L184.5 769.1 L184.7 767.1 L185.0 765.1 L185.3 763.1 L185.6 761.2 L185.8 759.2 L186.1 757.2 L186.4 755.2 L186.6 753.2 L186.9 751.3 L187.2 749.3 L187.4 747.3 L187.7 745.3 L187.9 743.3 L188.2 741.3 L188.5 739.3 L188.7 737.4 L189.0 735.4 L189.2 733.4 L189.5 731.4 L189.7 729.4 L190.0 727.4 L190.2 725.4 L190.5 723.4 L190.7 721.4 L190.9 719.4 L191.2 717.4 L191.4 715.4 L191.7 713.4 L191.9 711.4 L192.1 709.4 L192.4 707.4 L192.6 705.4 L192.8 703.4 L193.0 701.4 L193.3 699.4 L193.5 697.4 L193.7 695.4 L193.9 693.4 L194.2 691.4 L194.4 689.4 L194.6 687.4 L194.8 685.4 L195.0 683.4 L195.3 681.4 L195.5 679.4 L195.7 677.3 L195.9 675.3 L196.1 673.3 L196.3 671.3 L196.5 669.3 L196.8 667.3 L197.0 665.3 L197.2 663.3 L197.4 661.3 L197.6 659.3 L197.8 657.3 L198.0 655.2 L198.2 653.2 L198.4 651.2 L198.6 649.2 L198.8 647.2 L199.0 645.2 L199.2 643.2 L199.4 641.2 L199.6 639.2 L199.8 637.2 L200.0 635.3 L200.2 633.3 L200.4 631.3 L200.6 629.3 L200.8 627.3 L201.0 625.3 L201.2 623.4 L201.4 621.4 L201.6 619.4 L201.8 617.4 L202.0 615.5 L202.2 613.5 L202.4 611.5 L202.6 609.6 L202.8 607.6 L203.0 605.7 L203.2 603.7 L203.4 601.8 L203.6 599.8 L203.8 597.9 L204.0 596.0 L204.2 594.0 L204.4 592.1 L204.6 590.2 L204.8 588.2 L205.0 586.3 L205.2 584.4 L205.4 582.5 L205.6 580.5 L205.8 578.6 L206.0 576.6 L206.2 574.7 L206.5 572.8 L206.7 570.8 L206.9 568.8 L207.1 566.9 L207.3 564.9 L207.6 562.9 L207.8 560.9 L208.0 558.9 L208.2 556.9 L208.5 554.9 L208.7 552.9 L209.0 550.9 L209.2 548.8 L209.5 546.7 L209.7 544.7 L210.0 542.6 L210.2 540.5 L210.5 538.3 L210.8 536.2 L211.0 534.0 L211.3 531.9 L211.6 529.7 L211.9 527.5 L212.2 525.2 L212.5 523.0 L212.8 520.7 L213.2 518.4 L213.5 516.1 L213.9 513.8 L214.2 511.4 L214.6 509.1 L215.0 506.7 L215.4 504.2 L215.8 501.8 L216.2 499.4 L216.6 496.9 L217.0 494.5 L217.5 492.2 L217.9 489.9 L218.4 487.6 L218.8 485.5 L219.3 483.5 L219.8 481.6 L220.3 479.8 L220.8 478.2 L221.3 476.7 L221.8 475.5 L222.4 474.4 L222.9 473.6 L223.4 472.9 L224.0 472.6 L224.5 472.5 L225.1 472.6 L225.7 473.0 L226.2 473.6 L226.8 474.5 L227.4 475.6 L228.0 476.8 L228.5 478.3 L229.1 479.9 L229.7 481.6 L230.2 483.5 L230.8 485.6 L231.3 487.7 L231.8 489.9 L232.3 492.3 L232.9 494.7 L233.3 497.1 L233.8 499.6 L234.3 502.1 L234.7 504.6 L235.1 507.2 L235.6 509.7 L235.9 512.2 L236.3 514.7 L236.7 517.2 L237.0 519.7 L237.4 522.1 L237.7 524.5 L238.0 526.9 L238.3 529.3 L238.6 531.6 L238.9 533.8 L239.2 536.1 L239.5 538.3 L239.8 540.4 L240.0 542.5 L240.3 544.6 L240.6 546.7 L240.8 548.7 L241.1 550.7 L241.3 552.7 L241.6 554.7 L241.8 556.7 L242.1 558.6 L242.3 560.5 L242.6 562.4 L242.8 564.3 L243.0 566.2 L243.3 568.1 L243.5 570.0 L243.7 571.8 L244.0 573.7 L244.2 575.6 L244.4 577.4 L244.7 579.3 L244.9 581.2 L245.1 583.1 L245.3 585.0 L245.6 586.9 L245.8 588.8 L246.0 590.7 L246.3 592.6 L246.5 594.6 L246.8 596.5 L247.0 598.4 L247.2 600.4 L247.5 602.3 L247.7 604.3 L248.0 606.2 L248.2 608.2 L248.4 610.2 L248.7 612.1 L248.9 614.1 L249.2 616.1 L249.4 618.1 L249.7 620.1 L249.9 622.1 L250.2 624.1 L250.4 626.1 L250.7 628.0 L251.0 630.0 L251.2 632.1 L251.5 634.1 L251.7 636.1 L252.0 638.1 L252.3 640.1 L252.5 642.1 L252.8 644.1 L253.1 646.1 L253.4 648.1 L253.6 650.2 L253.9 652.2 L254.2 654.2 L254.5 656.2 L254.8 658.2 L255.1 660.2 L255.4 662.2 L255.6 664.3 L255.9 666.3 L256.2 668.3 L256.5 670.3 L256.8 672.3 L257.2 674.3 L257.5 676.3 L257.8 678.3 L258.1 680.3 L258.4 682.3 L258.7 684.3 L259.0 686.3 L259.4 688.3 L259.7 690.3 L260.0 692.3 L260.4 694.3 L260.7 696.3 L261.0 698.3 L261.4 700.2 L261.7 702.2 L262.1 704.2 L262.4 706.2 L262.8 708.1 L263.2 710.1 L263.5 712.1 L263.9 714.0 L264.3 716.0 L264.6 718.0 L265.0 719.9 L265.4 721.9 L265.8 723.9 L266.2 725.8 L266.6 727.8 L267.0 729.7 L267.4 731.7 L267.8 733.6 L268.2 735.6 L268.6 737.5 L269.1 739.4 L269.5 741.4 L269.9 743.3 L270.4 745.3 L270.8 747.2 L271.2 749.1 L271.7 751.1 L272.2 753.0 L272.6 754.9 L273.1 756.8 L273.6 758.8 L274.0 760.7 L274.5 762.6 L275.0 764.5 L275.5 766.5 L276.0 768.4 L276.5 770.3 L277.0 772.2 L277.5 774.1 L278.0 776.0 L278.6 777.9 L279.1 779.9 L279.6 781.8 L280.2 783.7 L280.7 785.6 L281.3 787.5 L281.8 789.4 L282.4 791.3 L283.0 793.2 L283.5 795.1 L284.1 797.0 L284.7 798.9 L285.3 800.8 L285.9 802.7 L286.5 804.5 L287.1 806.4 L287.8 808.3 L288.4 810.2 L289.0 812.1 L289.7 814.0 L290.3 815.9 L291.0 817.8 L291.6 819.6 L292.3 821.5 L293.0 823.4 L293.6 825.3 L294.3 827.2 L295.0 829.0 L295.7 830.9 L296.5 832.8 L297.2 834.7 L297.9 836.5 L298.6 838.4 L299.4 840.3 L300.1 842.2 L300.9 844.0 L301.6 845.9 L302.4 847.8 L303.2 849.6 L304.0 851.5 L304.8 853.4 L305.6 855.2 L306.4 857.1 L307.2 859.0 L308.0 860.8 L308.9 862.7 L309.7 864.5 L310.6 866.4 L311.4 868.3 L312.3 870.1 L313.2 872.0 L314.1 873.8 L315.0 875.7 L315.9 877.5 L316.8 879.3 L317.7 881.2 L318.7 883.0 L319.6 884.8 L320.6 886.6 L321.6 888.4 L322.6 890.2 L323.6 891.9 L324.7 893.7 L325.7 895.4 L326.8 897.1 L327.9 898.8 L329.0 900.5 L330.1 902.2 L331.2 903.9 L332.4 905.5 L333.6 907.1 L334.8 908.7 L336.0 910.3 L337.2 911.8 L338.5 913.4 L339.8 914.9 L341.1 916.3 L342.4 917.8 L343.8 919.2 L345.2 920.6 L346.6 922.0 L348.0 923.3 L349.5 924.6 L350.9 925.9 L352.5 927.2 L354.0 928.4 L355.6 929.6 L357.2 930.7 L358.8 931.8 L360.4 932.9 L362.1 933.9 L363.8 934.9 L365.6 935.9 L367.4 936.8 L369.2 937.7 L371.0 938.5 L372.9 939.3 L374.8 940.0 L376.7 940.7 L378.7 941.4 L380.6 941.9 L382.6 942.4 L384.6 942.9 L386.6 943.2 L388.6 943.5 L390.5 943.7 L392.5 943.8 L394.5 943.8 L396.5 943.7 L398.4 943.5 L400.4 943.2 L402.3 942.8 L404.2 942.3 L406.1 941.7 L407.9 941.0 L409.8 940.2 L411.6 939.3 L413.4 938.4 L415.2 937.4 L416.9 936.4 L418.7 935.3 L420.4 934.1 L422.1 932.9 L423.7 931.7 L425.4 930.4 L427.0 929.1 L428.6 927.8 L430.2 926.5 L431.8 925.2 L433.3 923.9 L434.9 922.6 L436.4 921.2 L437.9 919.9 L439.3 918.5 L440.8 917.2 L442.2 915.8 L443.6 914.4 L445.0 913.1 L446.4 911.7 L447.8 910.3 L449.2 908.9 L450.5 907.5 L451.8 906.1 L453.2 904.6 L454.5 903.2 L455.8 901.8 L457.1 900.3 L458.3 898.8 L459.6 897.4 L460.9 895.9 L462.1 894.4 L463.4 892.9 L464.6 891.4 L465.9 889.9 L467.1 888.4 L468.3 886.8 L469.5 885.3 L470.8 883.7 L472.0 882.2 L473.2 880.6 L474.4 879.0 L475.6 877.4 L476.8 875.8 L478.1 874.1 L479.3 872.5 L480.5 870.9 L481.7 869.2 L482.9 867.5 L484.1 865.9 L485.4 864.2 L486.6 862.5 L487.8 860.7 L489.1 859.0 L490.3 857.3 L491.6 855.5 L492.9 853.8 L494.1 852.0 L495.4 850.2 L496.7 848.5 L498.0 846.8 L499.3 845.0 L500.7 843.3 L502.0 841.6 L503.3 840.0 L504.7 838.3 L506.1 836.7 L507.5 835.1 L508.9 833.6 L510.3 832.1 L511.8 830.7 L513.2 829.3 L514.7 828.0 L516.2 826.7 L517.7 825.5 L519.2 824.3 L520.8 823.2 L522.4 822.2 L524.0 821.3 L525.6 820.5 L527.2 819.7 L528.9 819.0 L530.6 818.5 L532.3 818.0 L534.1 817.6 L535.8 817.3 L537.6 817.0 L539.4 816.9 L541.2 816.8 L543.1 816.8 L544.9 816.8 L546.8 817.0 L548.7 817.1 L550.6 817.4 L552.6 817.6 L554.5 817.9 L556.4 818.3 L558.4 818.7 L560.4 819.1 L562.4 819.6 L564.4 820.1 L566.4 820.6 L568.4 821.1 L570.4 821.6 L572.4 822.1 L574.5 822.7 L576.5 823.2 L578.5 823.8 L580.6 824.3 L582.6 824.8 L584.7 825.3 L586.7 825.8 L588.7 826.2 L590.8 826.7 L592.8 827.1 L594.8 827.4 L596.9 827.8 L598.9 828.0 L600.9 828.3 L602.9 828.4 L604.9 828.6 L606.9 828.6 L608.9 828.6 L610.9 828.6 L612.9 828.6 L614.8 828.4 L616.8 828.3 L618.7 828.1 L620.7 827.8 L622.6 827.5 L624.5 827.2 L626.4 826.8 L628.3 826.4 L630.2 826.0 L632.1 825.5 L634.0 825.0 L635.8 824.4 L637.7 823.8 L639.5 823.2 L641.4 822.5 L643.2 821.8 L645.0 821.1 L646.8 820.4 L648.6 819.6 L650.4 818.8 L652.1 817.9 L653.9 817.1 L655.7 816.2 L657.4 815.3 L659.1 814.3 L660.9 813.3 L662.6 812.3 L664.3 811.3 L666.0 810.3 L667.6 809.2 L669.3 808.1 L671.0 807.0 L672.6 805.8 L674.3 804.7 L675.9 803.5 L677.5 802.3 L679.1 801.0 L680.7 799.8 L682.3 798.5 L683.9 797.3 L685.4 796.0 L687.0 794.6 L688.6 793.3 L690.1 792.0 L691.6 790.6 L693.2 789.2 L694.7 787.8 L696.2 786.4 L697.7 785.0 L699.1 783.6 L700.6 782.1 L702.1 780.7 L703.5 779.2 L705.0 777.8 L706.4 776.3 L707.8 774.8 L709.3 773.3 L710.7 771.8 L712.1 770.3 L713.5 768.8 L715.0 767.3 L716.4 765.8 L717.8 764.3 L719.2 762.9 L720.7 761.4 L722.1 759.9 L723.5 758.5 L725.0 757.1 L726.5 755.6 L727.9 754.2 L729.4 752.9 L730.9 751.5 L732.4 750.2 L733.9 748.8 L735.5 747.5 L737.0 746.3 L738.6 745.0 L740.2 743.8 L741.8 742.6 L743.5 741.5 L745.1 740.4 L746.8 739.3 L748.5 738.3 L750.2 737.2 L752.0 736.3 L753.7 735.3 L755.5 734.4 L757.3 733.5 L759.1 732.7 L760.9 731.9 L762.8 731.1 L764.6 730.4 L766.5 729.7 L768.3 729.1 L770.2 728.4 L772.1 727.9 L774.0 727.3 L775.9 726.8 L777.8 726.4 L779.8 725.9 L781.7 725.6 L783.6 725.2 L785.6 724.9 L787.5 724.7 L789.4 724.4 L791.4 724.3 L793.3 724.1 L795.3 724.0 L797.2 724.0 L799.2 724.0 L801.1 724.0 L803.0 724.1 L805.0 724.2 L806.9 724.3 L808.8 724.6 L810.8 724.8 L812.7 725.1 L814.6 725.5 L816.5 725.8 L818.3 726.3 L820.2 726.8 L822.1 727.3 L823.9 727.9 L825.8 728.5 L827.6 729.2 L829.4 729.9 L831.2 730.6 L833.0 731.4 L834.7 732.3 L836.5 733.2 L838.2 734.2 L839.9 735.2 L841.6 736.3 L843.3 737.4 L844.9 738.5 L846.5 739.7 L848.1 741.0 L849.7 742.3 L851.3 743.6 L852.8 745.0 L854.4 746.4 L855.9 747.8 L857.4 749.3 L858.9 750.8 L860.4 752.3 L861.8 753.9 L863.3 755.4 L864.7 757.0 L866.1 758.6 L867.5 760.2 L868.9 761.8 L870.3 763.4 L871.7 765.0 L873.1 766.7 L874.5 768.3 L875.8 769.9 L877.2 771.5 L878.6 773.2 L879.9 774.8 L881.3 776.4 L882.6 777.9 L883.9 779.5 L885.3 781.1 L886.6 782.6 L887.9 784.1 L889.3 785.6 L890.6 787.1 L891.9 788.6 L893.3 790.1 L894.6 791.6 L895.9 793.1 L897.3 794.5 L898.6 796.0 L899.9 797.4 L901.3 798.8 L902.6 800.3 L904.0 801.7 L905.3 803.1 L906.7 804.5 L908.0 805.9 L909.4 807.3 L910.7 808.7 L912.1 810.1 L913.5 811.5 L914.9 812.9 L916.3 814.2 L917.6 815.6 L919.1 817.0 L920.5 818.4 L921.9 819.7 L923.3 821.1 L924.7 822.5 L926.2 823.8 L927.6 825.2 L929.1 826.5 L930.5 827.9 L932.0 829.2 L933.5 830.6 L935.0 831.9 L936.4 833.3 L937.9 834.6 L939.4 836.0 L940.9 837.3 L942.5 838.6 L944.0 839.9 L945.5 841.2 L947.0 842.6 L948.6 843.9 L950.1 845.2 L951.7 846.5 L953.3 847.7 L954.8 849.0 L956.4 850.3 L958.0 851.6 L959.6 852.8 L961.1 854.1 L962.7 855.3 L964.4 856.6 L966.0 857.8 L967.6 859.0 L969.2 860.3 L970.8 861.5 L972.5 862.7 L974.1 863.9 L975.7 865.1 L977.4 866.2 L979.1 867.4 L980.7 868.6 L982.4 869.7 L984.1 870.9 L985.7 872.0 L987.4 873.1 L989.1 874.3 L990.8 875.4 L992.5 876.5 L994.2 877.5 L995.9 878.6 L997.6 879.7 L999.3 880.7 L1001.1 881.8 L1002.8 882.8 L1004.5 883.8 L1006.3 884.8 L1008.0 885.8 L1009.8 886.8 L1011.5 887.8 L1013.3 888.7 L1015.0 889.7 L1016.8 890.6 L1018.6 891.5 L1020.4 892.4 L1022.1 893.3 L1023.9 894.2 L1025.7 895.1 L1027.5 895.9 L1029.3 896.8 L1031.1 897.6 L1032.9 898.4 L1034.7 899.2 L1036.5 900.0 L1038.3 900.8 L1040.2 901.6 L1042.0 902.3 L1043.8 903.1 L1045.7 903.8 L1047.5 904.5 L1049.3 905.2 L1051.2 905.9 L1053.0 906.6 L1054.9 907.3 L1056.7 907.9 L1058.6 908.6 L1060.5 909.2 L1062.3 909.8 L1064.2 910.4 L1066.1 911.1 L1068.0 911.6 L1069.8 912.2 L1071.7 912.8 L1073.6 913.4 L1075.5 913.9 L1077.4 914.5 L1079.3 915.0 L1081.2 915.5 L1083.1 916.0 L1085.0 916.5 L1086.9 917.0 L1088.8 917.5 L1090.7 918.0 L1092.7 918.4 L1094.6 918.9 L1096.5 919.3 L1098.4 919.8 L1100.4 920.2 L1102.3 920.6 L1104.2 921.0 L1106.2 921.4 L1108.1 921.8 L1110.1 922.2 L1112.0 922.5 L1113.9 922.9 L1115.9 923.3 L1117.9 923.6 L1119.8 924.0 L1121.8 924.3 L1123.7 924.6 L1125.7 924.9 L1127.7 925.2 L1129.6 925.5 L1131.6 925.8 L1133.6 926.1 L1135.5 926.4 L1137.5 926.7 L1139.5 926.9 L1141.5 927.2 L1143.5 927.4 L1145.4 927.7 L1147.4 927.9 L1149.4 928.1 L1151.4 928.4 L1153.4 928.6 L1155.4 928.8 L1157.4 929.0 L1159.4 929.2 L1161.4 929.4 L1163.4 929.6 L1165.4 929.8 L1167.4 929.9 L1169.4 930.1 L1171.4 930.3 L1173.4 930.4 L1175.4 930.6 L1177.4 930.7 L1179.5 930.9 L1181.5 931.0 L1183.5 931.1 L1185.5 931.3 L1187.5 931.4 L1189.5 931.5 L1191.5 931.6 L1193.6 931.7 L1195.6 931.8 L1197.6 931.9 L1199.6 932.0 L1201.7 932.1 L1203.7 932.2 L1205.7 932.3 L1207.7 932.4 L1209.8 932.4 L1211.8 932.5 L1213.8 932.6 L1215.9 932.7 L1217.9 932.7 L1219.9 932.8 L1221.9 932.8 L1224.0 932.9 L1226.0 933.0 L1228.0 933.0 L1230.1 933.0 L1232.1 933.1 L1234.1 933.1 L1236.2 933.2 L1238.2 933.2 L1240.2 933.2 L1242.3 933.3 L1244.3 933.3 L1246.4 933.3 L1248.4 933.4 L1250.4 933.4 L1252.5 933.4 L1254.5 933.4 L1256.5 933.5 L1258.6 933.5 L1260.6 933.5 L1262.6 933.5 L1264.7 933.5 L1266.7 933.6 L1268.7 933.6 L1270.8 933.6 L1272.8 933.6 L1274.8 933.6 L1276.9 933.6 L1278.9 933.6 L1280.9 933.7 L1283.0 933.7 L1285.0 933.7 L1287.0 933.7 L1289.0 933.7 L1291.1 933.7 L1293.1 933.7 L1295.1 933.7 L1297.1 933.8 L1299.2 933.8 L1301.2 933.8 L1303.2 933.8 L1305.2 933.8 L1307.3 933.9 L1309.3 933.9 L1311.3 933.9 L1313.3 933.9 L1315.3 934.0 L1317.3 934.0 L1319.4 934.0 L1321.4 934.0 L1323.4 934.1 L1325.4 934.1 L1327.4 934.1 L1329.4 934.2 L1331.4 934.2 L1333.4 934.3 L1335.4 934.3 L1337.4 934.4 L1339.4 934.4 L1341.4 934.5 L1343.4 934.5 L1345.4 934.6 L1347.4 934.7 L1349.4 934.7 L1351.4 934.8 L1353.4 934.9 L1355.3 935.0 L1357.3 935.0 L1359.3 935.1 L1361.3 935.2 L1363.3 935.3 L1365.2 935.4 L1367.2 935.5 L1369.2 935.6 L1371.2 935.7 L1373.1 935.8 L1375.1 936.0 L1377.0 936.1 L1379.0 936.2 L1381.0 936.4 L1382.9 936.5 L1384.9 936.6 L1386.8 936.8 L1388.8 936.9 L1390.7 937.1 L1392.6 937.3 L1394.6 937.4 L1396.5 937.6 L1398.5 937.8" stroke="#98ba2c"/>
<path d="M157.5 801.6 L158.0 799.7 L158.5 797.7 L159.0 795.8 L159.5 793.8 L160.0 791.9 L160.5 790.0 L161.0 788.0 L161.5 786.1 L161.9 784.1 L162.4 782.2 L162.9 780.2 L163.3 778.3 L163.8 776.4 L164.3 774.4 L164.7 772.5 L165.2 770.5 L165.6 768.6 L166.1 766.6 L166.5 764.6 L166.9 762.7 L167.4 760.7 L167.8 758.8 L168.2 756.8 L168.6 754.9 L169.1 752.9 L169.5 751.0 L169.9 749.0 L170.3 747.0 L170.7 745.1 L171.1 743.1 L171.5 741.1 L171.9 739.2 L172.3 737.2 L172.7 735.3 L173.1 733.3 L173.5 731.3 L173.9 729.4 L174.2 727.4 L174.6 725.4 L175.0 723.5 L175.4 721.5 L175.7 719.5 L176.1 717.5 L176.5 715.6 L176.8 713.6 L177.2 711.6 L177.5 709.7 L177.9 707.7 L178.2 705.7 L178.6 703.7 L178.9 701.8 L179.3 699.8 L179.6 697.8 L179.9 695.8 L180.3 693.9 L180.6 691.9 L180.9 689.9 L181.3 687.9 L181.6 685.9 L181.9 684.0 L182.2 682.0 L182.5 680.0 L182.8 678.0 L183.2 676.0 L183.5 674.1 L183.8 672.1 L184.1 670.1 L184.4 668.1 L184.7 666.1 L185.0 664.2 L185.3 662.2 L185.6 660.2 L185.9 658.2 L186.2 656.2 L186.4 654.2 L186.7 652.2 L187.0 650.3 L187.3 648.3 L187.6 646.3 L187.8 644.3 L188.1 642.3 L188.4 640.3 L188.7 638.3 L188.9 636.4 L189.2 634.4 L189.5 632.4 L189.7 630.4 L190.0 628.4 L190.3 626.4 L190.5 624.4 L190.8 622.4 L191.0 620.5 L191.3 618.5 L191.5 616.5 L191.8 614.5 L192.0 612.5 L192.3 610.5 L192.5 608.5 L192.8 606.5 L193.0 604.6 L193.3 602.6 L193.5 600.6 L193.8 598.6 L194.0 596.6 L194.2 594.6 L194.5 592.6 L194.7 590.6 L194.9 588.6 L195.2 586.7 L195.4 584.7 L195.6 582.7 L195.9 580.7 L196.1 578.7 L196.3 576.7 L196.5 574.7 L196.8 572.7 L197.0 570.7 L197.2 568.8 L197.4 566.8 L197.6 564.8 L197.9 562.8 L198.1 560.8 L198.3 558.8 L198.5 556.8 L198.7 554.8 L199.0 552.9 L199.2 550.9 L199.4 548.9 L199.6 546.9 L199.8 544.9 L200.0 542.9 L200.2 540.9 L200.5 539.0 L200.7 537.0 L200.9 535.0 L201.1 533.0 L201.3 531.0 L201.5 529.1 L201.7 527.1 L201.9 525.1 L202.2 523.1 L202.4 521.1 L202.6 519.2 L202.8 517.2 L203.0 515.2 L203.2 513.2 L203.4 511.2 L203.7 509.3 L203.9 507.3 L204.1 505.3 L204.3 503.4 L204.5 501.4 L204.7 499.4 L205.0 497.4 L205.2 495.5 L205.4 493.5 L205.6 491.5 L205.8 489.6 L206.0 487.6 L206.3 485.6 L206.5 483.7 L206.7 481.7 L207.0 479.7 L207.2 477.7 L207.5 475.7 L207.7 473.6 L208.0 471.6 L208.3 469.5 L208.6 467.4 L208.9 465.3 L209.2 463.1 L209.5 460.9 L209.9 458.7 L210.3 456.5 L210.7 454.2 L211.1 451.8 L211.5 449.4 L212.0 447.0 L212.4 444.5 L212.9 442.0 L213.5 439.5 L214.0 437.0 L214.6 434.5 L215.1 432.0 L215.7 429.6 L216.4 427.3 L217.0 425.0 L217.6 422.9 L218.3 420.8 L218.9 418.9 L219.6 417.2 L220.3 415.6 L221.0 414.2 L221.7 413.0 L222.4 412.0 L223.1 411.2 L223.8 410.7 L224.5 410.4 L225.3 410.4 L226.0 410.7 L226.7 411.3 L227.4 412.1 L228.1 413.2 L228.8 414.4 L229.5 415.9 L230.2 417.5 L230.9 419.3 L231.6 421.2 L232.2 423.3 L232.9 425.5 L233.5 427.8 L234.1 430.1 L234.7 432.5 L235.2 434.9 L235.8 437.4 L236.3 439.9 L236.8 442.4 L237.2 444.8 L237.6 447.2 L238.0 449.5 L238.4 451.8 L238.7 454.0 L239.0 456.1 L239.3 458.2 L239.6 460.3 L239.8 462.4 L240.1 464.4 L240.3 466.4 L240.5 468.4 L240.8 470.4 L241.0 472.4 L241.2 474.4 L241.5 476.4 L241.7 478.4 L241.9 480.4 L242.2 482.4 L242.4 484.4 L242.7 486.4 L242.9 488.4 L243.2 490.4 L243.4 492.4 L243.7 494.4 L243.9 496.4 L244.2 498.4 L244.4 500.4 L244.7 502.4 L244.9 504.4 L245.2 506.4 L245.4 508.4 L245.7 510.4 L246.0 512.4 L246.2 514.5 L246.5 516.5 L246.8 518.5 L247.0 520.5 L247.3 522.5 L247.6 524.5 L247.9 526.5 L248.1 528.5 L248.4 530.5 L248.7 532.5 L249.0 534.5 L249.3 536.5 L249.5 538.5 L249.8 540.6 L250.1 542.6 L250.4 544.6 L250.7 546.6 L251.0 548.6 L251.3 550.6 L251.6 552.6 L251.9 554.6 L252.2 556.6 L252.5 558.6 L252.8 560.6 L253.1 562.6 L253.5 564.6 L253.8 566.6 L254.1 568.6 L254.4 570.6 L254.7 572.6 L255.1 574.5 L255.4 576.5 L255.7 578.5 L256.1 580.5 L256.4 582.5 L256.7 584.5 L257.1 586.5 L257.4 588.5 L257.8 590.4 L258.1 592.4 L258.5 594.4 L258.8 596.4 L259.2 598.4 L259.6 600.3 L259.9 602.3 L260.3 604.3 L260.7 606.2 L261.0 608.2 L261.4 610.2 L261.8 612.1 L262.2 614.1 L262.5 616.1 L262.9 618.0 L263.3 620.0 L263.7 621.9 L264.1 623.9 L264.5 625.8 L264.9 627.8 L265.3 629.7 L265.7 631.6 L266.1 633.6 L266.5 635.5 L267.0 637.5 L267.4 639.4 L267.8 641.3 L268.2 643.2 L268.7 645.2 L269.1 647.1 L269.5 649.0 L270.0 650.9 L270.4 652.8 L270.9 654.7 L271.3 656.6 L271.8 658.6 L272.2 660.5 L272.7 662.4 L273.1 664.2 L273.6 666.1 L274.1 668.0 L274.6 669.9 L275.0 671.8 L275.5 673.7 L276.0 675.6 L276.5 677.4 L277.0 679.3 L277.5 681.2 L278.0 683.1 L278.5 684.9 L279.0 686.8 L279.5 688.7 L280.1 690.6 L280.6 692.4 L281.1 694.3 L281.6 696.2 L282.2 698.0 L282.7 699.9 L283.3 701.8 L283.8 703.6 L284.4 705.5 L285.0 707.4 L285.5 709.3 L286.1 711.1 L286.7 713.0 L287.3 714.9 L287.9 716.8 L288.5 718.6 L289.1 720.5 L289.7 722.4 L290.3 724.3 L290.9 726.2 L291.6 728.0 L292.2 729.9 L292.9 731.8 L293.5 733.7 L294.2 735.6 L294.8 737.5 L295.5 739.4 L296.2 741.3 L296.8 743.3 L297.5 745.2 L298.2 747.1 L298.9 749.0 L299.6 750.9 L300.4 752.9 L301.1 754.8 L301.8 756.8 L302.6 758.7 L303.3 760.7 L304.1 762.6 L304.8 764.6 L305.6 766.5 L306.4 768.5 L307.1 770.5 L307.9 772.5 L308.7 774.5 L309.5 776.5 L310.4 778.4 L311.2 780.4 L312.0 782.4 L312.9 784.4 L313.7 786.4 L314.6 788.3 L315.5 790.3 L316.4 792.3 L317.3 794.2 L318.2 796.1 L319.2 798.1 L320.1 800.0 L321.1 801.9 L322.1 803.7 L323.0 805.6 L324.1 807.5 L325.1 809.3 L326.1 811.1 L327.2 812.9 L328.2 814.6 L329.3 816.4 L330.4 818.1 L331.6 819.8 L332.7 821.5 L333.9 823.1 L335.1 824.7 L336.3 826.3 L337.5 827.8 L338.7 829.3 L340.0 830.8 L341.3 832.2 L342.6 833.6 L343.9 835.0 L345.2 836.3 L346.6 837.6 L348.0 838.9 L349.4 840.1 L350.9 841.2 L352.3 842.3 L353.8 843.4 L355.3 844.4 L356.9 845.4 L358.4 846.3 L360.0 847.2 L361.6 848.0 L363.3 848.7 L365.0 849.4 L366.7 850.1 L368.4 850.7 L370.1 851.2 L371.9 851.7 L373.7 852.1 L375.6 852.5 L377.4 852.8 L379.3 853.0 L381.2 853.2 L383.1 853.3 L385.1 853.4 L387.0 853.4 L388.9 853.4 L390.9 853.3 L392.9 853.2 L394.8 853.0 L396.8 852.7 L398.8 852.4 L400.8 852.1 L402.8 851.7 L404.7 851.3 L406.7 850.8 L408.6 850.2 L410.6 849.6 L412.5 849.0 L414.4 848.3 L416.3 847.6 L418.2 846.8 L420.1 846.0 L421.9 845.2 L423.7 844.2 L425.5 843.3 L427.3 842.3 L429.0 841.3 L430.7 840.2 L432.3 839.1 L434.0 837.9 L435.6 836.8 L437.1 835.5 L438.7 834.3 L440.2 833.0 L441.7 831.7 L443.1 830.3 L444.6 828.9 L446.0 827.5 L447.4 826.1 L448.7 824.6 L450.1 823.1 L451.4 821.6 L452.7 820.0 L454.0 818.5 L455.3 816.9 L456.6 815.3 L457.8 813.7 L459.1 812.1 L460.3 810.5 L461.6 808.8 L462.8 807.2 L464.0 805.5 L465.2 803.8 L466.4 802.1 L467.6 800.5 L468.9 798.8 L470.1 797.1 L471.3 795.4 L472.5 793.7 L473.7 792.0 L474.9 790.3 L476.2 788.6 L477.4 787.0 L478.6 785.3 L479.9 783.6 L481.2 782.0 L482.5 780.4 L483.8 778.7 L485.1 777.1 L486.4 775.5 L487.7 774.0 L489.1 772.4 L490.5 770.9 L491.9 769.3 L493.3 767.8 L494.8 766.4 L496.2 764.9 L497.7 763.5 L499.2 762.1 L500.7 760.7 L502.3 759.4 L503.8 758.1 L505.4 756.9 L507.0 755.6 L508.6 754.4 L510.2 753.3 L511.9 752.2 L513.5 751.1 L515.2 750.1 L516.9 749.1 L518.6 748.2 L520.3 747.3 L522.1 746.4 L523.8 745.6 L525.6 744.9 L527.4 744.2 L529.2 743.6 L531.0 743.0 L532.9 742.5 L534.7 742.0 L536.6 741.6 L538.5 741.3 L540.4 741.0 L542.3 740.8 L544.2 740.7 L546.1 740.6 L548.1 740.6 L550.0 740.6 L552.0 740.7 L554.0 740.8 L556.0 741.0 L558.0 741.2 L560.0 741.4 L562.0 741.7 L564.0 742.0 L566.1 742.3 L568.1 742.7 L570.1 743.1 L572.2 743.4 L574.2 743.8 L576.3 744.2 L578.3 744.6 L580.4 745.0 L582.4 745.4 L584.4 745.8 L586.5 746.2 L588.5 746.5 L590.5 746.9 L592.6 747.2 L594.6 747.4 L596.6 747.7 L598.6 747.9 L600.6 748.1 L602.6 748.2 L604.6 748.3 L606.6 748.3 L608.5 748.3 L610.5 748.3 L612.4 748.2 L614.4 748.1 L616.3 747.9 L618.2 747.7 L620.2 747.5 L622.1 747.2 L624.0 746.9 L625.9 746.5 L627.7 746.2 L629.6 745.7 L631.5 745.3 L633.3 744.8 L635.2 744.3 L637.0 743.7 L638.8 743.1 L640.7 742.5 L642.5 741.8 L644.3 741.1 L646.1 740.4 L647.9 739.6 L649.7 738.9 L651.4 738.0 L653.2 737.2 L654.9 736.3 L656.7 735.4 L658.4 734.5 L660.2 733.6 L661.9 732.6 L663.6 731.6 L665.3 730.6 L667.0 729.5 L668.7 728.4 L670.4 727.3 L672.0 726.2 L673.7 725.1 L675.4 723.9 L677.0 722.7 L678.6 721.5 L680.3 720.3 L681.9 719.0 L683.5 717.8 L685.1 716.5 L686.7 715.2 L688.3 713.9 L689.9 712.5 L691.5 711.2 L693.0 709.8 L694.6 708.4 L696.1 707.0 L697.7 705.6 L699.2 704.2 L700.8 702.8 L702.3 701.3 L703.8 699.9 L705.3 698.4 L706.9 697.0 L708.4 695.5 L709.9 694.0 L711.4 692.6 L712.9 691.1 L714.4 689.6 L715.9 688.2 L717.4 686.7 L718.9 685.3 L720.4 683.8 L721.9 682.4 L723.4 680.9 L724.9 679.5 L726.4 678.1 L727.9 676.6 L729.4 675.2 L730.9 673.8 L732.5 672.5 L734.0 671.1 L735.5 669.8 L737.0 668.4 L738.6 667.1 L740.1 665.8 L741.6 664.6 L743.2 663.3 L744.8 662.1 L746.3 660.9 L747.9 659.7 L749.5 658.5 L751.1 657.4 L752.7 656.3 L754.3 655.2 L755.9 654.2 L757.5 653.2 L759.2 652.2 L760.8 651.3 L762.5 650.4 L764.2 649.5 L765.8 648.6 L767.5 647.8 L769.3 647.1 L771.0 646.4 L772.7 645.7 L774.5 645.1 L776.3 644.5 L778.1 643.9 L779.9 643.4 L781.7 643.0 L783.5 642.5 L785.4 642.2 L787.2 641.9 L789.1 641.6 L791.0 641.4 L793.0 641.3 L794.9 641.2 L796.9 641.1 L798.8 641.1 L800.8 641.2 L802.8 641.3 L804.8 641.4 L806.8 641.6 L808.8 641.9 L810.8 642.2 L812.8 642.5 L814.8 642.9 L816.7 643.4 L818.7 643.8 L820.7 644.4 L822.7 645.0 L824.6 645.6 L826.6 646.2 L828.5 647.0 L830.4 647.7 L832.3 648.5 L834.2 649.4 L836.1 650.3 L837.9 651.2 L839.7 652.2 L841.5 653.2 L843.3 654.2 L845.0 655.3 L846.7 656.5 L848.4 657.6 L850.0 658.9 L851.6 660.1 L853.2 661.4 L854.8 662.7 L856.3 664.0 L857.9 665.4 L859.4 666.7 L860.9 668.2 L862.3 669.6 L863.8 671.0 L865.2 672.5 L866.7 674.0 L868.1 675.4 L869.5 677.0 L870.9 678.5 L872.2 680.0 L873.6 681.5 L875.0 683.0 L876.3 684.6 L877.7 686.1 L879.0 687.6 L880.4 689.1 L881.7 690.7 L883.1 692.2 L884.4 693.7 L885.7 695.2 L887.1 696.7 L888.4 698.2 L889.8 699.7 L891.1 701.1 L892.4 702.6 L893.8 704.1 L895.1 705.5 L896.5 707.0 L897.8 708.4 L899.1 709.9 L900.5 711.3 L901.8 712.8 L903.2 714.2 L904.6 715.6 L905.9 717.1 L907.3 718.5 L908.7 719.9 L910.0 721.3 L911.4 722.7 L912.8 724.1 L914.2 725.5 L915.6 726.9 L917.0 728.3 L918.4 729.7 L919.8 731.1 L921.2 732.5 L922.6 733.9 L924.1 735.3 L925.5 736.7 L927.0 738.0 L928.4 739.4 L929.9 740.8 L931.4 742.1 L932.8 743.5 L934.3 744.8 L935.8 746.2 L937.3 747.5 L938.8 748.9 L940.3 750.2 L941.8 751.6 L943.3 752.9 L944.8 754.2 L946.4 755.5 L947.9 756.8 L949.5 758.1 L951.0 759.4 L952.6 760.7 L954.1 762.0 L955.7 763.3 L957.3 764.6 L958.8 765.9 L960.4 767.1 L962.0 768.4 L963.6 769.6 L965.2 770.9 L966.8 772.1 L968.4 773.3 L970.1 774.5 L971.7 775.8 L973.3 777.0 L975.0 778.2 L976.6 779.3 L978.2 780.5 L979.9 781.7 L981.6 782.9 L983.2 784.0 L984.9 785.2 L986.6 786.3 L988.2 787.4 L989.9 788.5 L991.6 789.6 L993.3 790.7 L995.0 791.8 L996.7 792.9 L998.4 794.0 L1000.1 795.0 L1001.8 796.1 L1003.6 797.1 L1005.3 798.2 L1007.0 799.2 L1008.8 800.2 L1010.5 801.2 L1012.3 802.2 L1014.0 803.1 L1015.8 804.1 L1017.5 805.0 L1019.3 806.0 L1021.1 806.9 L1022.8 807.8 L1024.6 808.7 L1026.4 809.6 L1028.2 810.5 L1030.0 811.3 L1031.8 812.2 L1033.6 813.0 L1035.4 813.9 L1037.2 814.7 L1039.0 815.5 L1040.8 816.3 L1042.6 817.1 L1044.4 817.8 L1046.3 818.6 L1048.1 819.3 L1049.9 820.1 L1051.8 820.8 L1053.6 821.5 L1055.4 822.2 L1057.3 822.9 L1059.1 823.6 L1061.0 824.3 L1062.9 825.0 L1064.7 825.6 L1066.6 826.2 L1068.5 826.9 L1070.3 827.5 L1072.2 828.1 L1074.1 828.7 L1076.0 829.3 L1077.9 829.9 L1079.8 830.5 L1081.6 831.0 L1083.5 831.6 L1085.4 832.1 L1087.3 832.7 L1089.3 833.2 L1091.2 833.7 L1093.1 834.2 L1095.0 834.7 L1096.9 835.2 L1098.8 835.7 L1100.7 836.2 L1102.7 836.6 L1104.6 837.1 L1106.5 837.5 L1108.5 838.0 L1110.4 838.4 L1112.3 838.8 L1114.3 839.2 L1116.2 839.6 L1118.2 840.0 L1120.1 840.4 L1122.1 840.8 L1124.0 841.2 L1126.0 841.6 L1128.0 841.9 L1129.9 842.3 L1131.9 842.6 L1133.8 843.0 L1135.8 843.3 L1137.8 843.6 L1139.8 843.9 L1141.7 844.2 L1143.7 844.5 L1145.7 844.8 L1147.7 845.1 L1149.6 845.4 L1151.6 845.7 L1153.6 846.0 L1155.6 846.2 L1157.6 846.5 L1159.6 846.7 L1161.6 847.0 L1163.6 847.2 L1165.6 847.4 L1167.6 847.7 L1169.6 847.9 L1171.6 848.1 L1173.6 848.3 L1175.6 848.5 L1177.6 848.7 L1179.6 848.9 L1181.6 849.1 L1183.6 849.3 L1185.6 849.5 L1187.6 849.7 L1189.6 849.8 L1191.6 850.0 L1193.7 850.2 L1195.7 850.3 L1197.7 850.5 L1199.7 850.6 L1201.7 850.8 L1203.8 850.9 L1205.8 851.0 L1207.8 851.2 L1209.8 851.3 L1211.8 851.4 L1213.9 851.5 L1215.9 851.6 L1217.9 851.8 L1219.9 851.9 L1222.0 852.0 L1224.0 852.1 L1226.0 852.2 L1228.1 852.3 L1230.1 852.4 L1232.1 852.4 L1234.1 852.5 L1236.2 852.6 L1238.2 852.7 L1240.2 852.8 L1242.3 852.8 L1244.3 852.9 L1246.3 853.0 L1248.4 853.1 L1250.4 853.1 L1252.4 853.2 L1254.5 853.2 L1256.5 853.3 L1258.5 853.4 L1260.5 853.4 L1262.6 853.5 L1264.6 853.5 L1266.6 853.6 L1268.7 853.6 L1270.7 853.7 L1272.7 853.7 L1274.8 853.8 L1276.8 853.8 L1278.8 853.9 L1280.9 853.9 L1282.9 853.9 L1284.9 854.0 L1286.9 854.0 L1289.0 854.1 L1291.0 854.1 L1293.0 854.1 L1295.0 854.2 L1297.1 854.2 L1299.1 854.3 L1301.1 854.3 L1303.1 854.3 L1305.2 854.4 L1307.2 854.4 L1309.2 854.4 L1311.2 854.5 L1313.2 854.5 L1315.2 854.6 L1317.3 854.6 L1319.3 854.6 L1321.3 854.7 L1323.3 854.7 L1325.3 854.8 L1327.3 854.8 L1329.3 854.9 L1331.3 854.9 L1333.3 855.0 L1335.3 855.0 L1337.3 855.1 L1339.3 855.1 L1341.3 855.2 L1343.3 855.2 L1345.3 855.3 L1347.3 855.3 L1349.3 855.4 L1351.3 855.5 L1353.3 855.5 L1355.3 855.6 L1357.3 855.7 L1359.2 855.8 L1361.2 855.8 L1363.2 855.9 L1365.2 856.0 L1367.2 856.1 L1369.1 856.2 L1371.1 856.2 L1373.1 856.3 L1375.0 856.4 L1377.0 856.5 L1379.0 856.6 L1380.9 856.7 L1382.9 856.9 L1384.8 857.0 L1386.8 857.1 L1388.7 857.2 L1390.7 857.3 L1392.6 857.5 L1394.6 857.6 L1396.5 857.7 L1398.5 857.9" stroke="#fdd63b"/>
<path d="M157.5 653.3 L158.1 651.4 L158.6 649.4 L159.1 647.5 L159.6 645.6 L160.1 643.6 L160.7 641.7 L161.2 639.8 L161.7 637.8 L162.1 635.9 L162.6 633.9 L163.1 632.0 L163.6 630.0 L164.1 628.1 L164.5 626.2 L165.0 624.2 L165.5 622.3 L165.9 620.3 L166.4 618.4 L166.8 616.4 L167.2 614.5 L167.7 612.5 L168.1 610.6 L168.5 608.6 L169.0 606.7 L169.4 604.7 L169.8 602.8 L170.2 600.8 L170.6 598.8 L171.0 596.9 L171.4 594.9 L171.8 593.0 L172.2 591.0 L172.6 589.1 L173.0 587.1 L173.4 585.1 L173.8 583.2 L174.2 581.2 L174.5 579.2 L174.9 577.3 L175.3 575.3 L175.7 573.4 L176.0 571.4 L176.4 569.4 L176.7 567.5 L177.1 565.5 L177.5 563.5 L177.8 561.6 L178.2 559.6 L178.5 557.6 L178.9 555.7 L179.2 553.7 L179.6 551.7 L179.9 549.7 L180.2 547.8 L180.6 545.8 L180.9 543.8 L181.3 541.9 L181.6 539.9 L181.9 537.9 L182.3 535.9 L182.6 534.0 L182.9 532.0 L183.2 530.0 L183.6 528.0 L183.9 526.1 L184.2 524.1 L184.6 522.1 L184.9 520.1 L185.2 518.2 L185.5 516.2 L185.9 514.2 L186.2 512.2 L186.5 510.2 L186.8 508.3 L187.1 506.3 L187.5 504.3 L187.8 502.3 L188.1 500.4 L188.4 498.4 L188.8 496.4 L189.1 494.4 L189.4 492.4 L189.7 490.5 L190.1 488.5 L190.4 486.5 L190.7 484.5 L191.1 482.5 L191.4 480.5 L191.7 478.6 L192.0 476.6 L192.4 474.6 L192.7 472.6 L193.0 470.6 L193.4 468.6 L193.7 466.7 L194.1 464.7 L194.4 462.7 L194.7 460.7 L195.1 458.7 L195.4 456.8 L195.8 454.8 L196.1 452.8 L196.4 450.8 L196.8 448.8 L197.1 446.8 L197.4 444.9 L197.7 442.9 L198.1 440.9 L198.4 438.9 L198.7 437.0 L199.0 435.0 L199.3 433.0 L199.6 431.1 L199.9 429.1 L200.2 427.1 L200.5 425.2 L200.7 423.2 L201.0 421.2 L201.3 419.3 L201.5 417.3 L201.8 415.4 L202.0 413.4 L202.2 411.5 L202.4 409.5 L202.7 407.6 L202.9 405.6 L203.1 403.7 L203.3 401.7 L203.5 399.7 L203.7 397.8 L204.0 395.8 L204.2 393.9 L204.4 391.9 L204.6 389.9 L204.8 387.9 L205.1 386.0 L205.3 384.0 L205.6 382.0 L205.8 380.0 L206.1 378.0 L206.3 375.9 L206.6 373.9 L207.0 371.8 L207.3 369.7 L207.7 367.6 L208.1 365.4 L208.5 363.2 L209.0 360.9 L209.6 358.6 L210.2 356.2 L210.8 353.8 L211.5 351.3 L212.2 348.9 L213.0 346.5 L213.8 344.1 L214.6 341.9 L215.5 339.7 L216.4 337.7 L217.3 335.8 L218.2 334.2 L219.1 332.7 L220.0 331.5 L221.0 330.5 L221.9 329.8 L222.8 329.5 L223.7 329.5 L224.6 329.8 L225.5 330.4 L226.4 331.4 L227.3 332.6 L228.1 334.0 L228.9 335.7 L229.7 337.6 L230.5 339.6 L231.2 341.8 L231.9 344.1 L232.6 346.4 L233.3 348.8 L233.9 351.3 L234.5 353.7 L235.1 356.2 L235.6 358.5 L236.1 360.8 L236.6 363.1 L237.0 365.3 L237.4 367.4 L237.8 369.5 L238.2 371.5 L238.5 373.6 L238.8 375.6 L239.2 377.5 L239.5 379.5 L239.8 381.5 L240.1 383.5 L240.4 385.4 L240.8 387.4 L241.1 389.4 L241.4 391.4 L241.7 393.3 L242.0 395.3 L242.3 397.3 L242.6 399.3 L242.9 401.2 L243.3 403.2 L243.6 405.2 L243.9 407.2 L244.2 409.2 L244.5 411.1 L244.8 413.1 L245.1 415.1 L245.4 417.1 L245.7 419.0 L246.0 421.0 L246.4 423.0 L246.7 425.0 L247.0 426.9 L247.3 428.9 L247.6 430.9 L247.9 432.8 L248.2 434.8 L248.5 436.8 L248.9 438.8 L249.2 440.7 L249.5 442.7 L249.8 444.7 L250.1 446.7 L250.5 448.6 L250.8 450.6 L251.1 452.6 L251.4 454.5 L251.8 456.5 L252.1 458.5 L252.4 460.4 L252.8 462.4 L253.1 464.4 L253.4 466.3 L253.8 468.3 L254.1 470.3 L254.5 472.2 L254.8 474.2 L255.2 476.2 L255.5 478.1 L255.9 480.1 L256.2 482.1 L256.6 484.0 L257.0 486.0 L257.3 487.9 L257.7 489.9 L258.1 491.8 L258.4 493.8 L258.8 495.8 L259.2 497.7 L259.6 499.7 L260.0 501.6 L260.4 503.6 L260.8 505.5 L261.2 507.5 L261.6 509.4 L262.0 511.4 L262.4 513.3 L262.8 515.3 L263.3 517.2 L263.7 519.2 L264.1 521.1 L264.6 523.0 L265.0 525.0 L265.4 526.9 L265.9 528.9 L266.3 530.8 L266.8 532.7 L267.3 534.7 L267.7 536.6 L268.2 538.5 L268.7 540.5 L269.2 542.4 L269.7 544.3 L270.2 546.2 L270.7 548.2 L271.2 550.1 L271.7 552.0 L272.2 553.9 L272.7 555.9 L273.3 557.8 L273.8 559.7 L274.4 561.6 L274.9 563.5 L275.5 565.4 L276.0 567.3 L276.6 569.2 L277.2 571.2 L277.7 573.1 L278.3 575.0 L278.9 576.9 L279.5 578.8 L280.1 580.7 L280.7 582.6 L281.4 584.5 L282.0 586.4 L282.6 588.3 L283.2 590.1 L283.9 592.0 L284.5 593.9 L285.2 595.8 L285.8 597.7 L286.5 599.6 L287.1 601.5 L287.8 603.3 L288.5 605.2 L289.1 607.1 L289.8 609.0 L290.5 610.9 L291.2 612.7 L291.9 614.6 L292.6 616.5 L293.3 618.3 L294.0 620.2 L294.7 622.1 L295.4 623.9 L296.1 625.8 L296.9 627.7 L297.6 629.5 L298.3 631.4 L299.0 633.2 L299.8 635.1 L300.5 636.9 L301.2 638.8 L302.0 640.6 L302.7 642.5 L303.5 644.3 L304.2 646.2 L305.0 648.0 L305.8 649.9 L306.5 651.7 L307.3 653.5 L308.0 655.4 L308.8 657.2 L309.6 659.0 L310.4 660.9 L311.1 662.7 L311.9 664.5 L312.7 666.4 L313.5 668.2 L314.3 670.0 L315.1 671.8 L315.9 673.6 L316.8 675.4 L317.6 677.2 L318.5 679.0 L319.4 680.8 L320.3 682.5 L321.2 684.3 L322.2 686.1 L323.1 687.8 L324.1 689.5 L325.2 691.2 L326.2 693.0 L327.3 694.7 L328.4 696.3 L329.6 698.0 L330.8 699.7 L332.0 701.3 L333.2 703.0 L334.5 704.6 L335.9 706.2 L337.2 707.7 L338.7 709.3 L340.1 710.8 L341.6 712.3 L343.1 713.8 L344.6 715.3 L346.2 716.7 L347.8 718.1 L349.4 719.5 L351.1 720.8 L352.7 722.0 L354.4 723.3 L356.2 724.5 L357.9 725.6 L359.6 726.7 L361.4 727.7 L363.2 728.7 L365.0 729.6 L366.8 730.5 L368.6 731.3 L370.4 732.1 L372.3 732.8 L374.1 733.4 L375.9 733.9 L377.8 734.4 L379.6 734.8 L381.5 735.1 L383.3 735.4 L385.2 735.6 L387.0 735.7 L388.8 735.7 L390.7 735.7 L392.5 735.6 L394.3 735.4 L396.2 735.2 L398.0 734.9 L399.8 734.5 L401.6 734.1 L403.4 733.6 L405.2 733.1 L407.0 732.5 L408.8 731.8 L410.6 731.1 L412.4 730.4 L414.2 729.6 L416.0 728.8 L417.7 727.9 L419.5 727.0 L421.2 726.0 L423.0 725.0 L424.7 724.0 L426.4 722.9 L428.1 721.8 L429.9 720.7 L431.6 719.5 L433.2 718.3 L434.9 717.1 L436.6 715.9 L438.3 714.6 L439.9 713.3 L441.5 712.0 L443.2 710.7 L444.8 709.3 L446.4 708.0 L448.0 706.6 L449.6 705.2 L451.1 703.8 L452.7 702.4 L454.3 701.0 L455.8 699.6 L457.4 698.2 L458.9 696.8 L460.4 695.3 L461.9 693.9 L463.5 692.5 L465.0 691.0 L466.5 689.6 L468.0 688.2 L469.5 686.7 L471.0 685.3 L472.5 683.9 L474.0 682.5 L475.5 681.0 L477.0 679.6 L478.5 678.3 L480.0 676.9 L481.5 675.5 L483.0 674.1 L484.5 672.8 L486.0 671.5 L487.5 670.2 L489.0 668.9 L490.5 667.6 L492.0 666.3 L493.6 665.1 L495.1 663.9 L496.7 662.7 L498.2 661.5 L499.8 660.4 L501.4 659.3 L503.0 658.2 L504.6 657.2 L506.2 656.1 L507.8 655.1 L509.4 654.2 L511.1 653.2 L512.7 652.3 L514.4 651.5 L516.1 650.7 L517.8 649.9 L519.5 649.1 L521.2 648.4 L523.0 647.8 L524.8 647.1 L526.6 646.6 L528.4 646.0 L530.2 645.5 L532.0 645.1 L533.9 644.7 L535.8 644.3 L537.7 644.0 L539.6 643.7 L541.5 643.5 L543.5 643.2 L545.4 643.0 L547.4 642.9 L549.4 642.8 L551.4 642.6 L553.4 642.6 L555.4 642.5 L557.4 642.4 L559.5 642.4 L561.5 642.4 L563.6 642.4 L565.6 642.4 L567.7 642.4 L569.8 642.4 L571.9 642.4 L573.9 642.5 L576.0 642.5 L578.1 642.5 L580.2 642.5 L582.3 642.6 L584.4 642.6 L586.5 642.6 L588.6 642.6 L590.7 642.5 L592.8 642.5 L594.9 642.4 L597.0 642.3 L599.0 642.2 L601.1 642.1 L603.2 642.0 L605.3 641.8 L607.3 641.6 L609.4 641.3 L611.4 641.1 L613.5 640.8 L615.5 640.5 L617.5 640.1 L619.5 639.7 L621.5 639.3 L623.5 638.9 L625.5 638.5 L627.5 638.0 L629.5 637.5 L631.4 636.9 L633.4 636.4 L635.3 635.8 L637.2 635.2 L639.1 634.6 L641.0 633.9 L642.9 633.2 L644.7 632.5 L646.6 631.8 L648.4 631.0 L650.2 630.2 L652.0 629.4 L653.8 628.6 L655.6 627.8 L657.3 626.9 L659.1 626.0 L660.8 625.1 L662.5 624.1 L664.2 623.2 L665.9 622.2 L667.5 621.2 L669.1 620.1 L670.8 619.1 L672.4 618.0 L674.0 616.9 L675.5 615.8 L677.1 614.7 L678.7 613.6 L680.2 612.4 L681.7 611.2 L683.3 610.1 L684.8 608.9 L686.3 607.6 L687.8 606.4 L689.3 605.2 L690.7 603.9 L692.2 602.6 L693.7 601.4 L695.2 600.1 L696.6 598.8 L698.1 597.5 L699.5 596.1 L701.0 594.8 L702.4 593.5 L703.9 592.1 L705.3 590.8 L706.8 589.4 L708.2 588.1 L709.7 586.7 L711.2 585.3 L712.6 584.0 L714.1 582.6 L715.5 581.2 L717.0 579.8 L718.5 578.4 L720.0 577.0 L721.5 575.6 L723.0 574.3 L724.5 572.9 L726.0 571.5 L727.5 570.1 L729.0 568.7 L730.6 567.3 L732.1 565.9 L733.7 564.6 L735.3 563.2 L736.9 561.8 L738.5 560.5 L740.1 559.1 L741.7 557.8 L743.4 556.4 L745.0 555.1 L746.7 553.8 L748.4 552.5 L750.1 551.2 L751.8 549.9 L753.6 548.6 L755.3 547.4 L757.0 546.2 L758.8 545.0 L760.6 543.8 L762.3 542.6 L764.1 541.5 L765.9 540.4 L767.7 539.3 L769.5 538.3 L771.3 537.3 L773.1 536.3 L774.9 535.4 L776.7 534.5 L778.5 533.6 L780.3 532.8 L782.1 532.1 L784.0 531.3 L785.8 530.7 L787.6 530.0 L789.4 529.4 L791.2 528.9 L793.0 528.4 L794.8 528.0 L796.6 527.6 L798.4 527.3 L800.2 527.0 L802.0 526.8 L803.7 526.7 L805.5 526.6 L807.3 526.6 L809.0 526.7 L810.8 526.8 L812.5 527.0 L814.2 527.2 L815.9 527.5 L817.6 527.9 L819.4 528.3 L821.0 528.8 L822.7 529.3 L824.4 529.9 L826.1 530.5 L827.8 531.2 L829.4 531.9 L831.1 532.7 L832.7 533.5 L834.4 534.3 L836.0 535.2 L837.6 536.2 L839.2 537.2 L840.9 538.2 L842.5 539.2 L844.1 540.3 L845.7 541.5 L847.3 542.6 L848.9 543.8 L850.4 545.0 L852.0 546.3 L853.6 547.5 L855.2 548.8 L856.7 550.1 L858.3 551.5 L859.9 552.8 L861.4 554.2 L863.0 555.6 L864.5 557.0 L866.1 558.5 L867.6 559.9 L869.2 561.4 L870.7 562.8 L872.2 564.3 L873.8 565.8 L875.3 567.3 L876.8 568.7 L878.3 570.2 L879.9 571.7 L881.4 573.2 L882.9 574.7 L884.4 576.2 L886.0 577.7 L887.5 579.2 L889.0 580.7 L890.5 582.2 L892.0 583.6 L893.5 585.1 L895.0 586.6 L896.5 588.1 L898.1 589.6 L899.6 591.0 L901.1 592.5 L902.6 594.0 L904.1 595.4 L905.6 596.9 L907.1 598.4 L908.6 599.8 L910.1 601.3 L911.6 602.7 L913.1 604.2 L914.6 605.6 L916.1 607.0 L917.6 608.5 L919.2 609.9 L920.7 611.3 L922.2 612.8 L923.7 614.2 L925.2 615.6 L926.7 617.0 L928.2 618.4 L929.7 619.8 L931.2 621.2 L932.7 622.6 L934.3 624.0 L935.8 625.4 L937.3 626.8 L938.8 628.2 L940.3 629.5 L941.8 630.9 L943.4 632.2 L944.9 633.6 L946.4 634.9 L947.9 636.3 L949.5 637.6 L951.0 639.0 L952.5 640.3 L954.1 641.6 L955.6 642.9 L957.1 644.2 L958.7 645.5 L960.2 646.8 L961.8 648.1 L963.3 649.4 L964.9 650.6 L966.4 651.9 L968.0 653.2 L969.5 654.4 L971.1 655.7 L972.6 656.9 L974.2 658.1 L975.8 659.4 L977.4 660.6 L978.9 661.8 L980.5 663.0 L982.1 664.2 L983.7 665.3 L985.3 666.5 L986.9 667.7 L988.5 668.8 L990.1 670.0 L991.7 671.1 L993.3 672.3 L994.9 673.4 L996.5 674.5 L998.1 675.6 L999.8 676.7 L1001.4 677.8 L1003.0 678.9 L1004.7 679.9 L1006.3 681.0 L1007.9 682.1 L1009.6 683.1 L1011.3 684.1 L1012.9 685.1 L1014.6 686.2 L1016.3 687.2 L1017.9 688.1 L1019.6 689.1 L1021.3 690.1 L1023.0 691.0 L1024.7 692.0 L1026.4 692.9 L1028.1 693.9 L1029.8 694.8 L1031.5 695.7 L1033.3 696.6 L1035.0 697.5 L1036.7 698.3 L1038.5 699.2 L1040.2 700.0 L1042.0 700.9 L1043.7 701.7 L1045.5 702.5 L1047.3 703.3 L1049.0 704.1 L1050.8 704.9 L1052.6 705.7 L1054.4 706.4 L1056.2 707.2 L1058.0 707.9 L1059.8 708.7 L1061.6 709.4 L1063.4 710.1 L1065.2 710.8 L1067.1 711.5 L1068.9 712.2 L1070.7 712.9 L1072.6 713.5 L1074.4 714.2 L1076.3 714.8 L1078.1 715.5 L1080.0 716.1 L1081.8 716.7 L1083.7 717.3 L1085.6 717.9 L1087.4 718.5 L1089.3 719.1 L1091.2 719.7 L1093.1 720.2 L1095.0 720.8 L1096.9 721.3 L1098.8 721.9 L1100.7 722.4 L1102.6 722.9 L1104.5 723.4 L1106.4 723.9 L1108.3 724.4 L1110.3 724.9 L1112.2 725.4 L1114.1 725.9 L1116.1 726.3 L1118.0 726.8 L1119.9 727.2 L1121.9 727.7 L1123.8 728.1 L1125.8 728.5 L1127.7 729.0 L1129.7 729.4 L1131.6 729.8 L1133.6 730.2 L1135.6 730.6 L1137.5 730.9 L1139.5 731.3 L1141.5 731.7 L1143.4 732.1 L1145.4 732.4 L1147.4 732.8 L1149.4 733.1 L1151.4 733.4 L1153.4 733.8 L1155.4 734.1 L1157.3 734.4 L1159.3 734.7 L1161.3 735.0 L1163.3 735.3 L1165.3 735.6 L1167.3 735.9 L1169.4 736.2 L1171.4 736.5 L1173.4 736.7 L1175.4 737.0 L1177.4 737.3 L1179.4 737.5 L1181.4 737.8 L1183.5 738.0 L1185.5 738.2 L1187.5 738.5 L1189.5 738.7 L1191.5 738.9 L1193.6 739.1 L1195.6 739.4 L1197.6 739.6 L1199.7 739.8 L1201.7 740.0 L1203.7 740.2 L1205.8 740.4 L1207.8 740.5 L1209.8 740.7 L1211.9 740.9 L1213.9 741.1 L1216.0 741.2 L1218.0 741.4 L1220.0 741.6 L1222.1 741.7 L1224.1 741.9 L1226.2 742.0 L1228.2 742.2 L1230.2 742.3 L1232.3 742.5 L1234.3 742.6 L1236.4 742.7 L1238.4 742.9 L1240.5 743.0 L1242.5 743.1 L1244.6 743.2 L1246.6 743.4 L1248.7 743.5 L1250.7 743.6 L1252.8 743.7 L1254.8 743.8 L1256.8 743.9 L1258.9 744.0 L1260.9 744.1 L1263.0 744.2 L1265.0 744.3 L1267.1 744.4 L1269.1 744.5 L1271.2 744.6 L1273.2 744.7 L1275.2 744.7 L1277.3 744.8 L1279.3 744.9 L1281.4 745.0 L1283.4 745.1 L1285.4 745.1 L1287.5 745.2 L1289.5 745.3 L1291.6 745.4 L1293.6 745.4 L1295.6 745.5 L1297.6 745.6 L1299.7 745.7 L1301.7 745.7 L1303.7 745.8 L1305.8 745.9 L1307.8 745.9 L1309.8 746.0 L1311.8 746.1 L1313.9 746.1 L1315.9 746.2 L1317.9 746.3 L1319.9 746.3 L1321.9 746.4 L1323.9 746.4 L1325.9 746.5 L1327.9 746.6 L1329.9 746.6 L1331.9 746.7 L1334.0 746.8 L1335.9 746.8 L1337.9 746.9 L1339.9 747.0 L1341.9 747.0 L1343.9 747.1 L1345.9 747.2 L1347.9 747.3 L1349.9 747.3 L1351.9 747.4 L1353.8 747.5 L1355.8 747.5 L1357.8 747.6 L1359.7 747.7 L1361.7 747.8 L1363.7 747.9 L1365.6 747.9 L1367.6 748.0 L1369.5 748.1 L1371.5 748.2 L1373.4 748.3 L1375.4 748.4 L1377.3 748.5 L1379.3 748.6 L1381.2 748.7 L1383.1 748.8 L1385.0 748.9 L1387.0 749.0 L1388.9 749.1 L1390.8 749.2 L1392.7 749.3 L1394.6 749.4 L1396.5 749.5 L1398.4 749.7" stroke="#fe8a1b"/>
<path d="M157.5 530.0 L158.2 528.1 L158.9 526.2 L159.6 524.3 L160.3 522.4 L160.9 520.5 L161.6 518.6 L162.2 516.7 L162.8 514.8 L163.4 512.9 L164.0 511.0 L164.6 509.1 L165.2 507.1 L165.7 505.2 L166.3 503.3 L166.8 501.4 L167.4 499.5 L167.9 497.5 L168.4 495.6 L168.9 493.7 L169.4 491.8 L169.9 489.8 L170.3 487.9 L170.8 486.0 L171.3 484.0 L171.7 482.1 L172.2 480.2 L172.6 478.2 L173.0 476.3 L173.5 474.3 L173.9 472.4 L174.3 470.4 L174.7 468.5 L175.1 466.5 L175.5 464.6 L175.9 462.6 L176.2 460.7 L176.6 458.7 L177.0 456.8 L177.4 454.8 L177.7 452.8 L178.1 450.9 L178.4 448.9 L178.8 447.0 L179.1 445.0 L179.5 443.0 L179.8 441.1 L180.2 439.1 L180.5 437.1 L180.8 435.1 L181.2 433.2 L181.5 431.2 L181.8 429.2 L182.2 427.2 L182.5 425.3 L182.8 423.3 L183.1 421.3 L183.5 419.3 L183.8 417.3 L184.1 415.3 L184.4 413.4 L184.8 411.4 L185.1 409.4 L185.4 407.4 L185.8 405.4 L186.1 403.4 L186.4 401.4 L186.8 399.4 L187.1 397.4 L187.4 395.4 L187.8 393.4 L188.1 391.4 L188.5 389.4 L188.8 387.4 L189.2 385.4 L189.6 383.4 L189.9 381.4 L190.3 379.4 L190.7 377.4 L191.1 375.4 L191.5 373.4 L191.8 371.4 L192.2 369.4 L192.6 367.4 L193.0 365.4 L193.4 363.4 L193.8 361.5 L194.2 359.5 L194.6 357.5 L194.9 355.6 L195.3 353.6 L195.7 351.7 L196.1 349.8 L196.4 347.9 L196.8 346.0 L197.1 344.1 L197.5 342.3 L197.8 340.4 L198.1 338.6 L198.5 336.8 L198.8 335.0 L199.1 333.2 L199.4 331.4 L199.7 329.6 L200.0 327.8 L200.3 325.9 L200.6 324.1 L201.0 322.2 L201.3 320.3 L201.7 318.4 L202.1 316.4 L202.4 314.4 L202.9 312.2 L203.3 310.1 L203.8 307.8 L204.2 305.5 L204.7 303.1 L205.3 300.6 L205.8 298.0 L206.4 295.4 L207.0 292.8 L207.7 290.1 L208.3 287.5 L209.0 285.0 L209.7 282.4 L210.4 280.0 L211.1 277.7 L211.8 275.5 L212.6 273.4 L213.3 271.5 L214.1 269.7 L214.9 268.2 L215.7 266.9 L216.5 265.8 L217.3 264.9 L218.1 264.4 L218.9 264.1 L219.7 264.2 L220.5 264.6 L221.3 265.3 L222.1 266.2 L223.0 267.5 L223.8 268.9 L224.6 270.5 L225.4 272.3 L226.1 274.3 L226.9 276.3 L227.7 278.5 L228.4 280.7 L229.1 282.9 L229.8 285.1 L230.5 287.3 L231.2 289.5 L231.8 291.7 L232.5 293.8 L233.1 295.9 L233.7 298.0 L234.3 300.1 L234.9 302.1 L235.4 304.2 L236.0 306.3 L236.6 308.3 L237.1 310.4 L237.7 312.4 L238.2 314.4 L238.7 316.5 L239.2 318.5 L239.7 320.6 L240.2 322.6 L240.7 324.6 L241.2 326.6 L241.7 328.6 L242.2 330.7 L242.7 332.7 L243.1 334.7 L243.6 336.7 L244.0 338.7 L244.5 340.7 L244.9 342.7 L245.4 344.7 L245.8 346.7 L246.3 348.7 L246.7 350.7 L247.1 352.7 L247.5 354.6 L248.0 356.6 L248.4 358.6 L248.8 360.6 L249.2 362.5 L249.6 364.5 L250.0 366.5 L250.4 368.4 L250.8 370.4 L251.2 372.4 L251.7 374.3 L252.1 376.3 L252.5 378.2 L252.9 380.2 L253.3 382.1 L253.7 384.1 L254.1 386.0 L254.5 388.0 L254.9 389.9 L255.3 391.8 L255.7 393.8 L256.1 395.7 L256.5 397.7 L257.0 399.6 L257.4 401.5 L257.8 403.4 L258.2 405.4 L258.6 407.3 L259.1 409.2 L259.5 411.1 L260.0 413.1 L260.4 415.0 L260.8 416.9 L261.3 418.8 L261.7 420.7 L262.2 422.6 L262.7 424.5 L263.1 426.4 L263.6 428.4 L264.1 430.3 L264.6 432.2 L265.1 434.1 L265.6 436.0 L266.1 437.9 L266.6 439.8 L267.1 441.7 L267.7 443.6 L268.2 445.5 L268.8 447.4 L269.3 449.3 L269.9 451.2 L270.5 453.1 L271.0 454.9 L271.6 456.8 L272.2 458.7 L272.8 460.6 L273.4 462.5 L274.0 464.4 L274.6 466.3 L275.3 468.2 L275.9 470.1 L276.5 472.0 L277.2 473.9 L277.8 475.7 L278.5 477.6 L279.2 479.5 L279.8 481.4 L280.5 483.3 L281.2 485.2 L281.9 487.1 L282.6 489.0 L283.2 490.9 L283.9 492.7 L284.6 494.6 L285.4 496.5 L286.1 498.4 L286.8 500.3 L287.5 502.2 L288.2 504.1 L289.0 506.0 L289.7 507.9 L290.4 509.8 L291.2 511.7 L291.9 513.6 L292.7 515.5 L293.4 517.4 L294.2 519.3 L294.9 521.2 L295.7 523.1 L296.4 525.0 L297.2 526.9 L298.0 528.8 L298.8 530.7 L299.5 532.6 L300.3 534.5 L301.1 536.4 L301.9 538.3 L302.7 540.2 L303.6 542.0 L304.4 543.9 L305.2 545.8 L306.1 547.6 L306.9 549.5 L307.8 551.3 L308.7 553.2 L309.6 555.0 L310.5 556.8 L311.4 558.6 L312.3 560.4 L313.3 562.2 L314.2 564.0 L315.2 565.7 L316.2 567.5 L317.2 569.2 L318.2 570.9 L319.3 572.6 L320.3 574.3 L321.4 576.0 L322.5 577.6 L323.6 579.3 L324.7 580.9 L325.9 582.5 L327.1 584.0 L328.3 585.6 L329.5 587.1 L330.7 588.7 L332.0 590.1 L333.3 591.6 L334.6 593.1 L335.9 594.5 L337.2 595.9 L338.6 597.3 L340.0 598.6 L341.5 599.9 L342.9 601.2 L344.4 602.5 L345.9 603.7 L347.5 604.9 L349.0 606.1 L350.6 607.3 L352.3 608.4 L353.9 609.5 L355.6 610.6 L357.3 611.6 L359.1 612.6 L360.9 613.6 L362.7 614.5 L364.5 615.4 L366.4 616.2 L368.3 617.0 L370.2 617.8 L372.1 618.5 L374.1 619.2 L376.0 619.9 L378.0 620.4 L380.0 621.0 L382.0 621.5 L384.0 621.9 L386.0 622.3 L387.9 622.6 L389.9 622.8 L391.9 623.0 L393.9 623.2 L395.9 623.2 L397.9 623.3 L399.8 623.2 L401.8 623.1 L403.7 622.9 L405.6 622.6 L407.5 622.3 L409.4 621.8 L411.2 621.4 L413.1 620.9 L414.9 620.3 L416.7 619.6 L418.5 618.9 L420.3 618.2 L422.1 617.4 L423.9 616.6 L425.6 615.7 L427.4 614.8 L429.1 613.8 L430.9 612.8 L432.6 611.8 L434.3 610.7 L436.0 609.6 L437.7 608.5 L439.4 607.3 L441.1 606.1 L442.8 604.9 L444.5 603.7 L446.2 602.5 L447.9 601.2 L449.6 600.0 L451.3 598.7 L452.9 597.5 L454.6 596.2 L456.3 594.9 L458.0 593.6 L459.7 592.3 L461.3 591.1 L463.0 589.8 L464.7 588.5 L466.4 587.3 L468.1 586.1 L469.8 584.9 L471.5 583.7 L473.3 582.5 L475.0 581.3 L476.7 580.2 L478.5 579.1 L480.2 578.0 L482.0 577.0 L483.8 576.0 L485.6 575.0 L487.3 574.1 L489.1 573.2 L491.0 572.3 L492.8 571.5 L494.6 570.7 L496.4 569.9 L498.3 569.1 L500.1 568.4 L502.0 567.7 L503.9 567.0 L505.7 566.3 L507.6 565.7 L509.5 565.1 L511.4 564.5 L513.3 563.9 L515.2 563.3 L517.1 562.8 L519.1 562.3 L521.0 561.8 L522.9 561.3 L524.9 560.9 L526.8 560.4 L528.7 560.0 L530.7 559.6 L532.6 559.2 L534.6 558.8 L536.6 558.5 L538.5 558.1 L540.5 557.8 L542.5 557.4 L544.4 557.1 L546.4 556.8 L548.4 556.5 L550.4 556.2 L552.4 555.9 L554.3 555.6 L556.3 555.3 L558.3 555.0 L560.3 554.8 L562.3 554.5 L564.3 554.2 L566.3 554.0 L568.3 553.7 L570.2 553.5 L572.2 553.2 L574.2 552.9 L576.2 552.7 L578.2 552.4 L580.2 552.1 L582.2 551.9 L584.2 551.6 L586.1 551.3 L588.1 551.0 L590.1 550.7 L592.1 550.4 L594.0 550.1 L596.0 549.8 L598.0 549.5 L599.9 549.1 L601.9 548.8 L603.8 548.4 L605.8 548.1 L607.7 547.7 L609.7 547.3 L611.6 546.9 L613.5 546.4 L615.4 546.0 L617.4 545.5 L619.3 545.1 L621.2 544.6 L623.1 544.0 L625.0 543.5 L626.9 543.0 L628.7 542.4 L630.6 541.8 L632.5 541.2 L634.3 540.5 L636.2 539.8 L638.0 539.2 L639.9 538.4 L641.7 537.7 L643.5 536.9 L645.3 536.1 L647.1 535.3 L648.9 534.5 L650.7 533.6 L652.5 532.7 L654.3 531.8 L656.0 530.9 L657.8 529.9 L659.5 529.0 L661.3 528.0 L663.0 527.0 L664.7 525.9 L666.4 524.9 L668.1 523.8 L669.8 522.8 L671.5 521.7 L673.2 520.5 L674.9 519.4 L676.6 518.3 L678.2 517.1 L679.9 516.0 L681.5 514.8 L683.2 513.6 L684.8 512.4 L686.5 511.2 L688.1 510.0 L689.7 508.7 L691.3 507.5 L692.9 506.2 L694.5 505.0 L696.1 503.7 L697.7 502.4 L699.3 501.2 L700.9 499.9 L702.4 498.6 L704.0 497.3 L705.6 496.0 L707.1 494.7 L708.7 493.4 L710.2 492.1 L711.7 490.8 L713.3 489.5 L714.8 488.1 L716.3 486.8 L717.8 485.5 L719.4 484.2 L720.9 482.9 L722.4 481.6 L723.9 480.3 L725.4 479.0 L726.8 477.7 L728.3 476.4 L729.8 475.1 L731.3 473.9 L732.8 472.6 L734.3 471.3 L735.8 470.0 L737.3 468.7 L738.8 467.5 L740.3 466.2 L741.8 464.9 L743.3 463.7 L744.8 462.4 L746.3 461.1 L747.8 459.9 L749.4 458.6 L750.9 457.3 L752.5 456.1 L754.1 454.8 L755.7 453.6 L757.3 452.3 L758.9 451.1 L760.5 449.8 L762.1 448.6 L763.8 447.3 L765.4 446.1 L767.1 444.9 L768.8 443.7 L770.5 442.5 L772.3 441.3 L774.0 440.1 L775.7 438.9 L777.5 437.8 L779.3 436.7 L781.0 435.6 L782.8 434.5 L784.6 433.5 L786.4 432.5 L788.2 431.5 L790.0 430.6 L791.8 429.7 L793.6 428.9 L795.5 428.1 L797.3 427.3 L799.1 426.6 L801.0 425.9 L802.8 425.3 L804.7 424.8 L806.5 424.3 L808.3 423.8 L810.2 423.5 L812.0 423.1 L813.9 422.9 L815.7 422.7 L817.6 422.6 L819.4 422.6 L821.2 422.6 L823.1 422.7 L824.9 422.9 L826.7 423.2 L828.5 423.5 L830.3 423.9 L832.1 424.4 L833.9 424.9 L835.7 425.5 L837.5 426.1 L839.3 426.8 L841.1 427.6 L842.9 428.4 L844.6 429.2 L846.4 430.1 L848.2 431.1 L849.9 432.0 L851.7 433.1 L853.4 434.1 L855.1 435.2 L856.8 436.4 L858.6 437.6 L860.3 438.8 L862.0 440.0 L863.7 441.3 L865.3 442.5 L867.0 443.8 L868.7 445.2 L870.3 446.5 L872.0 447.9 L873.6 449.3 L875.3 450.7 L876.9 452.1 L878.5 453.5 L880.1 454.9 L881.7 456.3 L883.3 457.7 L884.8 459.1 L886.4 460.6 L888.0 462.0 L889.5 463.4 L891.0 464.8 L892.6 466.2 L894.1 467.6 L895.6 469.1 L897.1 470.5 L898.6 471.9 L900.1 473.3 L901.5 474.7 L903.0 476.1 L904.5 477.5 L905.9 478.9 L907.4 480.3 L908.8 481.7 L910.3 483.1 L911.7 484.5 L913.2 485.9 L914.6 487.3 L916.0 488.7 L917.5 490.1 L918.9 491.4 L920.3 492.8 L921.8 494.2 L923.2 495.6 L924.6 496.9 L926.0 498.3 L927.5 499.7 L928.9 501.0 L930.3 502.4 L931.8 503.7 L933.2 505.1 L934.6 506.4 L936.0 507.8 L937.5 509.1 L938.9 510.5 L940.4 511.8 L941.8 513.1 L943.3 514.4 L944.7 515.8 L946.2 517.1 L947.7 518.4 L949.1 519.7 L950.6 521.0 L952.1 522.3 L953.6 523.6 L955.1 524.9 L956.6 526.2 L958.1 527.4 L959.6 528.7 L961.1 530.0 L962.6 531.3 L964.2 532.5 L965.7 533.8 L967.3 535.0 L968.8 536.3 L970.4 537.5 L971.9 538.7 L973.5 540.0 L975.1 541.2 L976.6 542.4 L978.2 543.6 L979.8 544.8 L981.4 546.0 L983.0 547.2 L984.6 548.4 L986.2 549.6 L987.8 550.8 L989.4 552.0 L991.1 553.1 L992.7 554.3 L994.3 555.5 L996.0 556.6 L997.6 557.8 L999.3 558.9 L1000.9 560.0 L1002.6 561.2 L1004.2 562.3 L1005.9 563.4 L1007.6 564.5 L1009.3 565.6 L1010.9 566.7 L1012.6 567.8 L1014.3 568.9 L1016.0 569.9 L1017.7 571.0 L1019.4 572.1 L1021.1 573.1 L1022.9 574.2 L1024.6 575.2 L1026.3 576.3 L1028.0 577.3 L1029.8 578.3 L1031.5 579.3 L1033.2 580.3 L1035.0 581.3 L1036.7 582.3 L1038.5 583.3 L1040.2 584.3 L1042.0 585.3 L1043.8 586.2 L1045.5 587.2 L1047.3 588.1 L1049.1 589.1 L1050.9 590.0 L1052.6 590.9 L1054.4 591.9 L1056.2 592.8 L1058.0 593.7 L1059.8 594.6 L1061.6 595.5 L1063.4 596.3 L1065.2 597.2 L1067.1 598.1 L1068.9 598.9 L1070.7 599.8 L1072.5 600.6 L1074.3 601.5 L1076.2 602.3 L1078.0 603.1 L1079.8 603.9 L1081.7 604.7 L1083.5 605.5 L1085.4 606.3 L1087.2 607.1 L1089.1 607.8 L1090.9 608.6 L1092.8 609.3 L1094.7 610.1 L1096.5 610.8 L1098.4 611.5 L1100.3 612.2 L1102.1 612.9 L1104.0 613.6 L1105.9 614.3 L1107.8 615.0 L1109.7 615.7 L1111.5 616.3 L1113.4 617.0 L1115.3 617.6 L1117.2 618.2 L1119.1 618.9 L1121.0 619.5 L1122.9 620.1 L1124.8 620.7 L1126.7 621.3 L1128.6 621.8 L1130.5 622.4 L1132.5 623.0 L1134.4 623.5 L1136.3 624.1 L1138.2 624.6 L1140.1 625.1 L1142.1 625.6 L1144.0 626.2 L1145.9 626.7 L1147.9 627.2 L1149.8 627.6 L1151.7 628.1 L1153.7 628.6 L1155.6 629.1 L1157.5 629.5 L1159.5 630.0 L1161.4 630.4 L1163.4 630.8 L1165.3 631.3 L1167.3 631.7 L1169.2 632.1 L1171.2 632.5 L1173.1 632.9 L1175.1 633.3 L1177.1 633.7 L1179.0 634.1 L1181.0 634.4 L1182.9 634.8 L1184.9 635.2 L1186.9 635.5 L1188.8 635.9 L1190.8 636.2 L1192.8 636.5 L1194.8 636.9 L1196.7 637.2 L1198.7 637.5 L1200.7 637.8 L1202.7 638.1 L1204.6 638.4 L1206.6 638.7 L1208.6 639.0 L1210.6 639.3 L1212.6 639.6 L1214.6 639.8 L1216.6 640.1 L1218.5 640.3 L1220.5 640.6 L1222.5 640.9 L1224.5 641.1 L1226.5 641.3 L1228.5 641.6 L1230.5 641.8 L1232.5 642.0 L1234.5 642.3 L1236.5 642.5 L1238.5 642.7 L1240.5 642.9 L1242.5 643.1 L1244.5 643.3 L1246.5 643.5 L1248.5 643.7 L1250.5 643.9 L1252.5 644.1 L1254.5 644.2 L1256.5 644.4 L1258.5 644.6 L1260.5 644.8 L1262.5 644.9 L1264.5 645.1 L1266.5 645.2 L1268.5 645.4 L1270.5 645.5 L1272.5 645.7 L1274.5 645.8 L1276.5 646.0 L1278.6 646.1 L1280.6 646.3 L1282.6 646.4 L1284.6 646.5 L1286.6 646.7 L1288.6 646.8 L1290.6 646.9 L1292.6 647.0 L1294.6 647.1 L1296.6 647.3 L1298.6 647.4 L1300.7 647.5 L1302.7 647.6 L1304.7 647.7 L1306.7 647.8 L1308.7 647.9 L1310.7 648.0 L1312.7 648.1 L1314.7 648.2 L1316.7 648.3 L1318.7 648.4 L1320.7 648.5 L1322.7 648.6 L1324.8 648.7 L1326.8 648.8 L1328.8 648.9 L1330.8 649.0 L1332.8 649.1 L1334.8 649.2 L1336.8 649.3 L1338.8 649.3 L1340.8 649.4 L1342.8 649.5 L1344.8 649.6 L1346.8 649.7 L1348.8 649.8 L1350.8 649.9 L1352.8 649.9 L1354.8 650.0 L1356.8 650.1 L1358.8 650.2 L1360.8 650.3 L1362.8 650.4 L1364.8 650.5 L1366.8 650.5 L1368.8 650.6 L1370.7 650.7 L1372.7 650.8 L1374.7 650.9 L1376.7 651.0 L1378.7 651.1 L1380.7 651.2 L1382.7 651.3 L1384.6 651.4 L1386.6 651.5 L1388.6 651.6 L1390.6 651.6 L1392.6 651.7 L1394.5 651.8 L1396.5 652.0 L1398.5 652.1" stroke="#d77dd4"/>
<path d="M157.5 432.0 L158.1 430.0 L158.7 428.0 L159.3 426.1 L159.9 424.1 L160.5 422.1 L161.0 420.2 L161.6 418.2 L162.1 416.3 L162.7 414.4 L163.3 412.4 L163.8 410.5 L164.3 408.6 L164.9 406.7 L165.4 404.8 L165.9 402.9 L166.4 400.9 L167.0 399.0 L167.5 397.1 L168.0 395.2 L168.5 393.3 L169.0 391.4 L169.5 389.5 L170.0 387.7 L170.4 385.8 L170.9 383.9 L171.4 382.0 L171.9 380.1 L172.3 378.2 L172.8 376.3 L173.3 374.4 L173.7 372.5 L174.2 370.6 L174.6 368.6 L175.1 366.7 L175.5 364.8 L175.9 362.9 L176.4 361.0 L176.8 359.0 L177.2 357.1 L177.6 355.2 L178.1 353.2 L178.5 351.2 L178.9 349.3 L179.3 347.3 L179.7 345.3 L180.1 343.4 L180.5 341.4 L180.9 339.4 L181.3 337.3 L181.7 335.3 L182.1 333.3 L182.5 331.3 L182.9 329.2 L183.2 327.2 L183.6 325.2 L184.0 323.1 L184.4 321.1 L184.7 319.0 L185.1 317.0 L185.5 314.9 L185.8 312.9 L186.2 310.8 L186.5 308.8 L186.9 306.7 L187.3 304.7 L187.6 302.7 L187.9 300.7 L188.3 298.6 L188.6 296.6 L189.0 294.6 L189.3 292.7 L189.6 290.7 L190.0 288.7 L190.3 286.8 L190.6 284.8 L190.9 282.9 L191.3 281.0 L191.6 279.1 L191.9 277.2 L192.2 275.4 L192.5 273.5 L192.8 271.7 L193.1 269.9 L193.4 268.2 L193.7 266.4 L194.0 264.6 L194.3 262.9 L194.6 261.2 L194.9 259.4 L195.2 257.7 L195.6 255.9 L195.9 254.1 L196.2 252.3 L196.5 250.5 L196.9 248.6 L197.2 246.7 L197.6 244.8 L197.9 242.7 L198.3 240.7 L198.7 238.6 L199.1 236.4 L199.5 234.1 L199.9 231.8 L200.4 229.4 L200.9 226.9 L201.3 224.3 L201.8 221.7 L202.4 219.1 L202.9 216.5 L203.5 213.8 L204.0 211.2 L204.6 208.6 L205.2 206.0 L205.9 203.6 L206.5 201.1 L207.2 198.8 L207.9 196.6 L208.6 194.5 L209.3 192.5 L210.1 190.6 L210.9 189.0 L211.6 187.5 L212.5 186.2 L213.3 185.1 L214.2 184.2 L215.0 183.6 L215.9 183.2 L216.9 183.1 L217.8 183.3 L218.8 183.7 L219.7 184.4 L220.7 185.4 L221.7 186.5 L222.7 187.8 L223.7 189.4 L224.7 191.0 L225.6 192.9 L226.6 194.8 L227.5 196.8 L228.4 199.0 L229.2 201.2 L230.0 203.4 L230.8 205.7 L231.5 207.9 L232.2 210.2 L232.8 212.5 L233.3 214.7 L233.9 217.0 L234.4 219.2 L234.9 221.4 L235.3 223.7 L235.8 225.8 L236.2 228.0 L236.7 230.2 L237.1 232.3 L237.5 234.4 L238.0 236.5 L238.4 238.5 L238.9 240.6 L239.3 242.6 L239.7 244.6 L240.2 246.6 L240.6 248.6 L241.0 250.5 L241.5 252.5 L241.9 254.4 L242.3 256.4 L242.8 258.3 L243.2 260.2 L243.6 262.1 L244.1 264.1 L244.5 266.0 L244.9 267.9 L245.4 269.8 L245.8 271.7 L246.2 273.6 L246.7 275.5 L247.1 277.4 L247.5 279.4 L248.0 281.3 L248.4 283.2 L248.8 285.1 L249.3 287.0 L249.7 289.0 L250.2 290.9 L250.6 292.8 L251.1 294.7 L251.5 296.7 L252.0 298.6 L252.4 300.5 L252.9 302.4 L253.3 304.4 L253.8 306.3 L254.2 308.2 L254.7 310.2 L255.2 312.1 L255.6 314.0 L256.1 315.9 L256.6 317.9 L257.0 319.8 L257.5 321.7 L258.0 323.7 L258.5 325.6 L259.0 327.5 L259.5 329.5 L260.0 331.4 L260.5 333.3 L261.0 335.2 L261.5 337.2 L262.0 339.1 L262.5 341.0 L263.0 343.0 L263.6 344.9 L264.1 346.8 L264.6 348.7 L265.2 350.7 L265.7 352.6 L266.2 354.5 L266.8 356.4 L267.4 358.3 L267.9 360.3 L268.5 362.2 L269.1 364.1 L269.6 366.0 L270.2 367.9 L270.8 369.8 L271.4 371.8 L272.0 373.7 L272.6 375.6 L273.2 377.5 L273.9 379.4 L274.5 381.3 L275.1 383.2 L275.8 385.1 L276.4 387.0 L277.1 388.9 L277.7 390.8 L278.4 392.7 L279.1 394.6 L279.8 396.5 L280.4 398.4 L281.1 400.2 L281.9 402.1 L282.6 404.0 L283.3 405.9 L284.0 407.8 L284.8 409.6 L285.5 411.5 L286.3 413.4 L287.0 415.3 L287.8 417.1 L288.6 419.0 L289.3 420.8 L290.1 422.7 L291.0 424.5 L291.8 426.4 L292.6 428.2 L293.4 430.1 L294.3 431.9 L295.1 433.8 L296.0 435.6 L296.9 437.4 L297.7 439.2 L298.6 441.0 L299.5 442.9 L300.5 444.7 L301.4 446.5 L302.3 448.2 L303.3 450.0 L304.2 451.8 L305.2 453.6 L306.2 455.3 L307.2 457.1 L308.2 458.8 L309.2 460.5 L310.3 462.3 L311.3 464.0 L312.4 465.7 L313.4 467.4 L314.5 469.1 L315.6 470.7 L316.8 472.4 L317.9 474.0 L319.0 475.7 L320.2 477.3 L321.4 478.9 L322.6 480.5 L323.8 482.1 L325.0 483.7 L326.3 485.2 L327.5 486.8 L328.8 488.3 L330.1 489.8 L331.4 491.3 L332.7 492.8 L334.0 494.3 L335.4 495.7 L336.8 497.1 L338.2 498.6 L339.6 500.0 L341.0 501.3 L342.4 502.7 L343.9 504.1 L345.4 505.4 L346.9 506.7 L348.4 508.0 L349.9 509.3 L351.5 510.5 L353.1 511.8 L354.7 513.0 L356.3 514.1 L357.9 515.3 L359.6 516.4 L361.2 517.5 L362.9 518.5 L364.6 519.5 L366.3 520.4 L368.1 521.3 L369.8 522.2 L371.6 523.0 L373.4 523.7 L375.2 524.4 L377.0 525.0 L378.8 525.6 L380.7 526.1 L382.5 526.5 L384.4 526.9 L386.3 527.2 L388.2 527.4 L390.1 527.5 L392.0 527.5 L394.0 527.5 L395.9 527.4 L397.9 527.2 L399.8 526.9 L401.8 526.6 L403.8 526.2 L405.8 525.8 L407.8 525.3 L409.8 524.7 L411.8 524.1 L413.8 523.5 L415.8 522.8 L417.7 522.1 L419.7 521.4 L421.7 520.6 L423.7 519.9 L425.7 519.1 L427.6 518.3 L429.6 517.5 L431.5 516.6 L433.4 515.8 L435.4 515.0 L437.3 514.2 L439.2 513.4 L441.1 512.5 L442.9 511.7 L444.8 510.9 L446.7 510.0 L448.5 509.2 L450.4 508.4 L452.2 507.5 L454.1 506.7 L455.9 505.9 L457.8 505.1 L459.6 504.2 L461.4 503.4 L463.2 502.6 L465.0 501.8 L466.8 501.0 L468.6 500.1 L470.5 499.3 L472.3 498.5 L474.1 497.7 L475.9 496.9 L477.7 496.2 L479.5 495.4 L481.3 494.6 L483.1 493.8 L484.9 493.1 L486.7 492.3 L488.5 491.6 L490.3 490.8 L492.1 490.1 L494.0 489.4 L495.8 488.7 L497.6 488.0 L499.4 487.3 L501.3 486.6 L503.1 486.0 L505.0 485.3 L506.8 484.7 L508.7 484.0 L510.6 483.4 L512.5 482.8 L514.4 482.2 L516.2 481.6 L518.2 481.0 L520.1 480.5 L522.0 479.9 L523.9 479.4 L525.8 478.8 L527.8 478.3 L529.7 477.8 L531.6 477.3 L533.6 476.8 L535.5 476.3 L537.5 475.8 L539.5 475.3 L541.4 474.8 L543.4 474.4 L545.4 473.9 L547.3 473.4 L549.3 473.0 L551.3 472.5 L553.3 472.0 L555.2 471.6 L557.2 471.1 L559.2 470.7 L561.2 470.2 L563.2 469.8 L565.2 469.3 L567.2 468.9 L569.1 468.4 L571.1 468.0 L573.1 467.5 L575.1 467.1 L577.1 466.6 L579.1 466.2 L581.0 465.7 L583.0 465.2 L585.0 464.7 L587.0 464.3 L588.9 463.8 L590.9 463.3 L592.9 462.8 L594.8 462.3 L596.8 461.8 L598.7 461.3 L600.7 460.7 L602.6 460.2 L604.6 459.7 L606.5 459.1 L608.4 458.5 L610.3 458.0 L612.2 457.4 L614.2 456.8 L616.1 456.2 L618.0 455.5 L619.8 454.9 L621.7 454.3 L623.6 453.6 L625.5 452.9 L627.3 452.2 L629.2 451.5 L631.0 450.8 L632.8 450.1 L634.7 449.3 L636.5 448.6 L638.3 447.8 L640.1 447.0 L641.9 446.2 L643.6 445.3 L645.4 444.5 L647.2 443.6 L648.9 442.8 L650.7 441.9 L652.4 441.0 L654.1 440.0 L655.8 439.1 L657.6 438.2 L659.3 437.2 L661.0 436.2 L662.6 435.2 L664.3 434.2 L666.0 433.2 L667.7 432.2 L669.3 431.1 L671.0 430.1 L672.6 429.0 L674.2 427.9 L675.9 426.8 L677.5 425.7 L679.1 424.5 L680.7 423.4 L682.3 422.3 L683.9 421.1 L685.5 419.9 L687.1 418.7 L688.7 417.5 L690.3 416.3 L691.8 415.1 L693.4 413.9 L694.9 412.6 L696.5 411.3 L698.0 410.1 L699.6 408.8 L701.1 407.5 L702.6 406.2 L704.1 404.9 L705.6 403.5 L707.2 402.2 L708.7 400.9 L710.2 399.5 L711.6 398.1 L713.1 396.8 L714.6 395.4 L716.1 394.0 L717.6 392.6 L719.0 391.1 L720.5 389.7 L722.0 388.3 L723.4 386.8 L724.9 385.4 L726.3 383.9 L727.8 382.4 L729.2 381.0 L730.7 379.5 L732.1 378.0 L733.6 376.5 L735.0 375.0 L736.4 373.6 L737.9 372.1 L739.3 370.6 L740.8 369.1 L742.2 367.7 L743.7 366.2 L745.1 364.8 L746.6 363.3 L748.1 361.9 L749.5 360.5 L751.0 359.1 L752.5 357.7 L754.0 356.3 L755.5 354.9 L757.0 353.6 L758.5 352.2 L760.0 350.9 L761.6 349.6 L763.1 348.4 L764.7 347.1 L766.2 345.9 L767.8 344.7 L769.4 343.5 L771.0 342.4 L772.6 341.2 L774.2 340.1 L775.9 339.1 L777.5 338.1 L779.2 337.1 L780.9 336.1 L782.6 335.2 L784.3 334.3 L786.1 333.4 L787.8 332.6 L789.6 331.8 L791.4 331.1 L793.2 330.4 L795.1 329.8 L796.9 329.2 L798.8 328.6 L800.7 328.1 L802.6 327.6 L804.6 327.2 L806.5 326.8 L808.5 326.5 L810.5 326.2 L812.5 326.0 L814.5 325.8 L816.6 325.7 L818.6 325.6 L820.7 325.5 L822.7 325.6 L824.7 325.6 L826.8 325.7 L828.8 325.8 L830.8 326.0 L832.8 326.3 L834.9 326.5 L836.8 326.9 L838.8 327.2 L840.8 327.7 L842.7 328.1 L844.6 328.6 L846.5 329.2 L848.4 329.8 L850.2 330.4 L852.0 331.1 L853.8 331.8 L855.6 332.5 L857.4 333.3 L859.1 334.1 L860.9 335.0 L862.6 335.9 L864.3 336.8 L865.9 337.8 L867.6 338.8 L869.2 339.8 L870.8 340.9 L872.5 342.0 L874.0 343.1 L875.6 344.2 L877.2 345.4 L878.7 346.6 L880.3 347.8 L881.8 349.0 L883.3 350.3 L884.8 351.6 L886.3 352.9 L887.8 354.2 L889.3 355.5 L890.8 356.9 L892.2 358.3 L893.7 359.7 L895.1 361.1 L896.6 362.5 L898.0 363.9 L899.4 365.4 L900.9 366.8 L902.3 368.3 L903.7 369.8 L905.1 371.2 L906.5 372.7 L907.9 374.2 L909.3 375.7 L910.7 377.2 L912.2 378.7 L913.6 380.3 L915.0 381.8 L916.4 383.3 L917.8 384.8 L919.2 386.3 L920.6 387.8 L922.0 389.3 L923.4 390.8 L924.8 392.3 L926.3 393.8 L927.7 395.2 L929.1 396.7 L930.6 398.2 L932.0 399.6 L933.5 401.1 L934.9 402.6 L936.4 404.0 L937.8 405.4 L939.3 406.9 L940.8 408.3 L942.2 409.7 L943.7 411.1 L945.2 412.5 L946.7 413.9 L948.2 415.3 L949.7 416.7 L951.2 418.1 L952.7 419.5 L954.2 420.8 L955.7 422.2 L957.2 423.6 L958.7 424.9 L960.2 426.3 L961.8 427.6 L963.3 428.9 L964.8 430.2 L966.4 431.6 L967.9 432.9 L969.4 434.2 L971.0 435.5 L972.5 436.8 L974.1 438.1 L975.7 439.3 L977.2 440.6 L978.8 441.9 L980.4 443.1 L982.0 444.4 L983.5 445.6 L985.1 446.8 L986.7 448.1 L988.3 449.3 L989.9 450.5 L991.5 451.7 L993.1 452.9 L994.7 454.1 L996.4 455.3 L998.0 456.5 L999.6 457.7 L1001.2 458.8 L1002.9 460.0 L1004.5 461.1 L1006.1 462.3 L1007.8 463.4 L1009.4 464.5 L1011.1 465.7 L1012.7 466.8 L1014.4 467.9 L1016.1 469.0 L1017.7 470.1 L1019.4 471.1 L1021.1 472.2 L1022.8 473.3 L1024.5 474.3 L1026.1 475.4 L1027.8 476.4 L1029.5 477.5 L1031.2 478.5 L1032.9 479.5 L1034.7 480.5 L1036.4 481.6 L1038.1 482.6 L1039.8 483.5 L1041.5 484.5 L1043.3 485.5 L1045.0 486.5 L1046.7 487.4 L1048.5 488.4 L1050.2 489.3 L1052.0 490.2 L1053.7 491.2 L1055.5 492.1 L1057.2 493.0 L1059.0 493.9 L1060.8 494.8 L1062.5 495.7 L1064.3 496.6 L1066.1 497.4 L1067.9 498.3 L1069.7 499.1 L1071.5 500.0 L1073.3 500.8 L1075.1 501.6 L1076.9 502.5 L1078.7 503.3 L1080.5 504.1 L1082.3 504.9 L1084.1 505.6 L1085.9 506.4 L1087.8 507.2 L1089.6 507.9 L1091.4 508.7 L1093.3 509.4 L1095.1 510.2 L1096.9 510.9 L1098.8 511.6 L1100.6 512.3 L1102.5 513.0 L1104.4 513.7 L1106.2 514.4 L1108.1 515.1 L1110.0 515.8 L1111.8 516.5 L1113.7 517.1 L1115.6 517.8 L1117.5 518.4 L1119.3 519.0 L1121.2 519.7 L1123.1 520.3 L1125.0 520.9 L1126.9 521.5 L1128.8 522.1 L1130.7 522.7 L1132.6 523.3 L1134.5 523.9 L1136.4 524.5 L1138.3 525.0 L1140.3 525.6 L1142.2 526.1 L1144.1 526.7 L1146.0 527.2 L1147.9 527.7 L1149.9 528.3 L1151.8 528.8 L1153.7 529.3 L1155.7 529.8 L1157.6 530.3 L1159.5 530.8 L1161.5 531.3 L1163.4 531.8 L1165.4 532.2 L1167.3 532.7 L1169.3 533.2 L1171.2 533.6 L1173.2 534.1 L1175.1 534.5 L1177.1 535.0 L1179.1 535.4 L1181.0 535.8 L1183.0 536.2 L1184.9 536.6 L1186.9 537.0 L1188.9 537.5 L1190.9 537.8 L1192.8 538.2 L1194.8 538.6 L1196.8 539.0 L1198.8 539.4 L1200.7 539.7 L1202.7 540.1 L1204.7 540.5 L1206.7 540.8 L1208.7 541.2 L1210.7 541.5 L1212.6 541.9 L1214.6 542.2 L1216.6 542.5 L1218.6 542.8 L1220.6 543.1 L1222.6 543.5 L1224.6 543.8 L1226.6 544.1 L1228.6 544.4 L1230.6 544.7 L1232.6 545.0 L1234.6 545.2 L1236.6 545.5 L1238.6 545.8 L1240.6 546.1 L1242.6 546.3 L1244.6 546.6 L1246.6 546.8 L1248.6 547.1 L1250.6 547.3 L1252.6 547.6 L1254.6 547.8 L1256.7 548.1 L1258.7 548.3 L1260.7 548.5 L1262.7 548.7 L1264.7 549.0 L1266.7 549.2 L1268.7 549.4 L1270.7 549.6 L1272.7 549.8 L1274.8 550.0 L1276.8 550.2 L1278.8 550.4 L1280.8 550.6 L1282.8 550.8 L1284.8 550.9 L1286.8 551.1 L1288.8 551.3 L1290.9 551.5 L1292.9 551.6 L1294.9 551.8 L1296.9 552.0 L1298.9 552.1 L1300.9 552.3 L1302.9 552.4 L1304.9 552.6 L1307.0 552.7 L1309.0 552.9 L1311.0 553.0 L1313.0 553.2 L1315.0 553.3 L1317.0 553.4 L1319.0 553.6 L1321.0 553.7 L1323.0 553.8 L1325.0 553.9 L1327.0 554.0 L1329.0 554.2 L1331.0 554.3 L1333.0 554.4 L1335.1 554.5 L1337.1 554.6 L1339.1 554.7 L1341.1 554.8 L1343.1 554.9 L1345.0 555.0 L1347.0 555.1 L1349.0 555.2 L1351.0 555.3 L1353.0 555.4 L1355.0 555.5 L1357.0 555.6 L1359.0 555.6 L1361.0 555.7 L1363.0 555.8 L1365.0 555.9 L1366.9 556.0 L1368.9 556.0 L1370.9 556.1 L1372.9 556.2 L1374.9 556.3 L1376.8 556.3 L1378.8 556.4 L1380.8 556.5 L1382.8 556.5 L1384.7 556.6 L1386.7 556.7 L1388.7 556.7 L1390.6 556.8 L1392.6 556.8 L1394.6 556.9 L1396.5 557.0 L1398.5 557.0" stroke="#e01b5a"/>
</g>
<text x="364.33" y="1379" text-anchor="middle">5</text>
<text x="626.1" y="1379" textLength="41.3" lengthAdjust="spacingAndGlyphs">0</text>
<path d="M610.00 1379.00 L603.00 1379.00 L603.00 1334.60 L596.60 1338.70 L589.20 1342.80 L589.20 1336.10 L595.90 1332.40 L605.20 1322.00 L610.00 1322.00 Z"/>
<text x="881.5" y="1379">5</text>
<path d="M868.00 1379.00 L861.00 1379.00 L861.00 1334.60 L854.60 1338.70 L847.20 1342.80 L847.20 1336.10 L853.90 1332.40 L863.20 1322.00 L868.00 1322.00 Z"/>
<text x="1139.96" y="1379" text-anchor="middle">20</text>
<text x="1398.50" y="1379" text-anchor="middle">25</text>
<text x="658.00" y="1470.7" font-style="italic">q</text>
<text x="722.00" y="1470.7" textLength="131" lengthAdjust="spacingAndGlyphs">/nm</text>
<rect x="852.9" y="1419.8" width="14.2" height="5.7"/>
<path d="M888.97 1436.00 L884.30 1436.00 L884.30 1406.40 L880.03 1409.13 L875.10 1411.87 L875.10 1407.40 L879.57 1404.93 L885.77 1398.00 L888.97 1398.00 Z"/>
<text transform="translate(91.8 835.00) rotate(-90)" font-style="italic">I</text>
<text transform="translate(91.8 793.00) rotate(-90)">(</text>
<text transform="translate(91.8 766.00) rotate(-90)" font-style="italic">q</text>
<text transform="translate(91.8 722.00) rotate(-90)">)</text>
<text transform="translate(91.8 673.60) rotate(-90)">/</text>
<text transform="translate(91.8 652.00) rotate(-90)"><tspan textLength="130.5" lengthAdjust="spacingAndGlyphs">a.u.</tspan></text>
</svg>
</body></html>
